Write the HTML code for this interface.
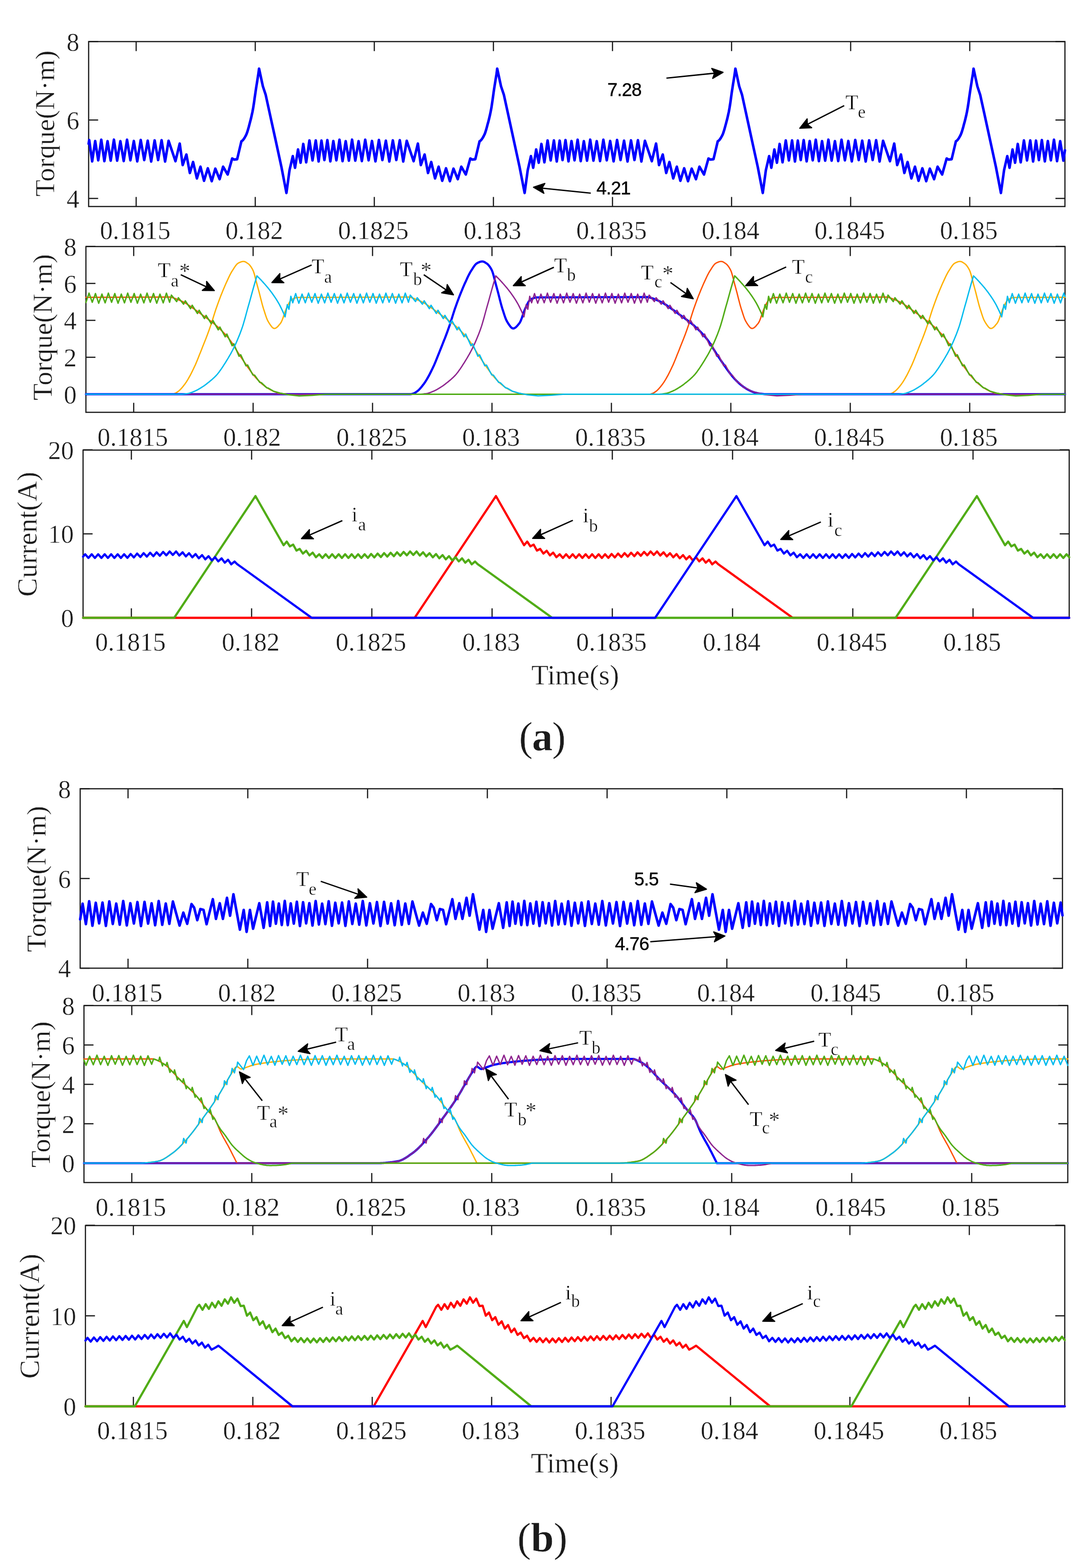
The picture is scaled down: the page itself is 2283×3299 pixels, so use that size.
<!DOCTYPE html>
<html><head><meta charset="utf-8"><title>Figure</title><style>html,body{margin:0;padding:0;background:#fff;}svg{display:block;}</style></head><body>
<svg width="2283" height="3299" viewBox="0 0 2283 3299" font-family="'Liberation Serif','Times New Roman',serif" fill="#1a1a1a">
<style>text{stroke:#fff;stroke-width:0.55px;}</style>
<rect width="2283" height="3299" fill="#fff"/>
<path d="M186.5,434.4 L186.5,87.5 L2240.8,87.5 L2240.8,434.4 Z" fill="none" stroke="#1a1a1a" stroke-width="2.5" stroke-linejoin="miter"/>
<line x1="286.5" y1="87.5" x2="286.5" y2="107.5" stroke="#1a1a1a" stroke-width="2.5"/>
<line x1="286.5" y1="434.4" x2="286.5" y2="414.4" stroke="#1a1a1a" stroke-width="2.5"/>
<text x="284.5" y="502.5" font-size="54" text-anchor="middle">0.1815</text>
<line x1="537.1" y1="87.5" x2="537.1" y2="107.5" stroke="#1a1a1a" stroke-width="2.5"/>
<line x1="537.1" y1="434.4" x2="537.1" y2="414.4" stroke="#1a1a1a" stroke-width="2.5"/>
<text x="535.1" y="502.5" font-size="54" text-anchor="middle">0.182</text>
<line x1="787.6" y1="87.5" x2="787.6" y2="107.5" stroke="#1a1a1a" stroke-width="2.5"/>
<line x1="787.6" y1="434.4" x2="787.6" y2="414.4" stroke="#1a1a1a" stroke-width="2.5"/>
<text x="785.6" y="502.5" font-size="54" text-anchor="middle">0.1825</text>
<line x1="1038.2" y1="87.5" x2="1038.2" y2="107.5" stroke="#1a1a1a" stroke-width="2.5"/>
<line x1="1038.2" y1="434.4" x2="1038.2" y2="414.4" stroke="#1a1a1a" stroke-width="2.5"/>
<text x="1036.2" y="502.5" font-size="54" text-anchor="middle">0.183</text>
<line x1="1288.8" y1="87.5" x2="1288.8" y2="107.5" stroke="#1a1a1a" stroke-width="2.5"/>
<line x1="1288.8" y1="434.4" x2="1288.8" y2="414.4" stroke="#1a1a1a" stroke-width="2.5"/>
<text x="1286.8" y="502.5" font-size="54" text-anchor="middle">0.1835</text>
<line x1="1539.3" y1="87.5" x2="1539.3" y2="107.5" stroke="#1a1a1a" stroke-width="2.5"/>
<line x1="1539.3" y1="434.4" x2="1539.3" y2="414.4" stroke="#1a1a1a" stroke-width="2.5"/>
<text x="1537.3" y="502.5" font-size="54" text-anchor="middle">0.184</text>
<line x1="1789.9" y1="87.5" x2="1789.9" y2="107.5" stroke="#1a1a1a" stroke-width="2.5"/>
<line x1="1789.9" y1="434.4" x2="1789.9" y2="414.4" stroke="#1a1a1a" stroke-width="2.5"/>
<text x="1787.9" y="502.5" font-size="54" text-anchor="middle">0.1845</text>
<line x1="2040.5" y1="87.5" x2="2040.5" y2="107.5" stroke="#1a1a1a" stroke-width="2.5"/>
<line x1="2040.5" y1="434.4" x2="2040.5" y2="414.4" stroke="#1a1a1a" stroke-width="2.5"/>
<text x="2038.5" y="502.5" font-size="54" text-anchor="middle">0.185</text>
<line x1="186.5" y1="417.5" x2="206.5" y2="417.5" stroke="#1a1a1a" stroke-width="2.5"/>
<line x1="2240.8" y1="417.5" x2="2220.8" y2="417.5" stroke="#1a1a1a" stroke-width="2.5"/>
<text x="167.0" y="436.7" font-size="54" text-anchor="end">4</text>
<line x1="186.5" y1="252.5" x2="206.5" y2="252.5" stroke="#1a1a1a" stroke-width="2.5"/>
<line x1="2240.8" y1="252.5" x2="2220.8" y2="252.5" stroke="#1a1a1a" stroke-width="2.5"/>
<text x="167.0" y="271.7" font-size="54" text-anchor="end">6</text>
<line x1="186.5" y1="87.5" x2="206.5" y2="87.5" stroke="#1a1a1a" stroke-width="2.5"/>
<line x1="2240.8" y1="87.5" x2="2220.8" y2="87.5" stroke="#1a1a1a" stroke-width="2.5"/>
<text x="167.0" y="106.7" font-size="54" text-anchor="end">8</text>
<text transform="translate(114.0,259.8) rotate(-90)" font-size="57.8" text-anchor="middle">Torque(N·m)</text>
<path d="M180.8,867.5 L180.8,518.7 L2241.0,518.7 L2241.0,867.5 Z" fill="none" stroke="#1a1a1a" stroke-width="2.5" stroke-linejoin="miter"/>
<line x1="281.3" y1="518.7" x2="281.3" y2="538.7" stroke="#1a1a1a" stroke-width="2.5"/>
<line x1="281.3" y1="867.5" x2="281.3" y2="847.5" stroke="#1a1a1a" stroke-width="2.5"/>
<text x="279.3" y="938.0" font-size="54" text-anchor="middle">0.1815</text>
<line x1="532.6" y1="518.7" x2="532.6" y2="538.7" stroke="#1a1a1a" stroke-width="2.5"/>
<line x1="532.6" y1="867.5" x2="532.6" y2="847.5" stroke="#1a1a1a" stroke-width="2.5"/>
<text x="530.6" y="938.0" font-size="54" text-anchor="middle">0.182</text>
<line x1="783.9" y1="518.7" x2="783.9" y2="538.7" stroke="#1a1a1a" stroke-width="2.5"/>
<line x1="783.9" y1="867.5" x2="783.9" y2="847.5" stroke="#1a1a1a" stroke-width="2.5"/>
<text x="781.9" y="938.0" font-size="54" text-anchor="middle">0.1825</text>
<line x1="1035.2" y1="518.7" x2="1035.2" y2="538.7" stroke="#1a1a1a" stroke-width="2.5"/>
<line x1="1035.2" y1="867.5" x2="1035.2" y2="847.5" stroke="#1a1a1a" stroke-width="2.5"/>
<text x="1033.2" y="938.0" font-size="54" text-anchor="middle">0.183</text>
<line x1="1286.5" y1="518.7" x2="1286.5" y2="538.7" stroke="#1a1a1a" stroke-width="2.5"/>
<line x1="1286.5" y1="867.5" x2="1286.5" y2="847.5" stroke="#1a1a1a" stroke-width="2.5"/>
<text x="1284.5" y="938.0" font-size="54" text-anchor="middle">0.1835</text>
<line x1="1537.8" y1="518.7" x2="1537.8" y2="538.7" stroke="#1a1a1a" stroke-width="2.5"/>
<line x1="1537.8" y1="867.5" x2="1537.8" y2="847.5" stroke="#1a1a1a" stroke-width="2.5"/>
<text x="1535.8" y="938.0" font-size="54" text-anchor="middle">0.184</text>
<line x1="1789.1" y1="518.7" x2="1789.1" y2="538.7" stroke="#1a1a1a" stroke-width="2.5"/>
<line x1="1789.1" y1="867.5" x2="1789.1" y2="847.5" stroke="#1a1a1a" stroke-width="2.5"/>
<text x="1787.1" y="938.0" font-size="54" text-anchor="middle">0.1845</text>
<line x1="2040.4" y1="518.7" x2="2040.4" y2="538.7" stroke="#1a1a1a" stroke-width="2.5"/>
<line x1="2040.4" y1="867.5" x2="2040.4" y2="847.5" stroke="#1a1a1a" stroke-width="2.5"/>
<text x="2038.4" y="938.0" font-size="54" text-anchor="middle">0.185</text>
<line x1="180.8" y1="829.4" x2="200.8" y2="829.4" stroke="#1a1a1a" stroke-width="2.5"/>
<line x1="2241.0" y1="829.4" x2="2221.0" y2="829.4" stroke="#1a1a1a" stroke-width="2.5"/>
<text x="161.3" y="848.6" font-size="54" text-anchor="end">0</text>
<line x1="180.8" y1="751.7" x2="200.8" y2="751.7" stroke="#1a1a1a" stroke-width="2.5"/>
<line x1="2241.0" y1="751.7" x2="2221.0" y2="751.7" stroke="#1a1a1a" stroke-width="2.5"/>
<text x="161.3" y="770.9" font-size="54" text-anchor="end">2</text>
<line x1="180.8" y1="674.0" x2="200.8" y2="674.0" stroke="#1a1a1a" stroke-width="2.5"/>
<line x1="2241.0" y1="674.0" x2="2221.0" y2="674.0" stroke="#1a1a1a" stroke-width="2.5"/>
<text x="161.3" y="693.2" font-size="54" text-anchor="end">4</text>
<line x1="180.8" y1="596.3" x2="200.8" y2="596.3" stroke="#1a1a1a" stroke-width="2.5"/>
<line x1="2241.0" y1="596.3" x2="2221.0" y2="596.3" stroke="#1a1a1a" stroke-width="2.5"/>
<text x="161.3" y="615.5" font-size="54" text-anchor="end">6</text>
<line x1="180.8" y1="518.6" x2="200.8" y2="518.6" stroke="#1a1a1a" stroke-width="2.5"/>
<line x1="2241.0" y1="518.6" x2="2221.0" y2="518.6" stroke="#1a1a1a" stroke-width="2.5"/>
<text x="161.3" y="537.8" font-size="54" text-anchor="end">8</text>
<text transform="translate(108.5,688.5) rotate(-90)" font-size="57.8" text-anchor="middle">Torque(N·m)</text>
<path d="M174.8,1299.9 L174.8,947.0 L2249.8,947.0 L2249.8,1299.9 Z" fill="none" stroke="#1a1a1a" stroke-width="2.5" stroke-linejoin="miter"/>
<line x1="276.4" y1="947.0" x2="276.4" y2="967.0" stroke="#1a1a1a" stroke-width="2.5"/>
<line x1="276.4" y1="1299.9" x2="276.4" y2="1279.9" stroke="#1a1a1a" stroke-width="2.5"/>
<text x="274.4" y="1369.0" font-size="54" text-anchor="middle">0.1815</text>
<line x1="529.4" y1="947.0" x2="529.4" y2="967.0" stroke="#1a1a1a" stroke-width="2.5"/>
<line x1="529.4" y1="1299.9" x2="529.4" y2="1279.9" stroke="#1a1a1a" stroke-width="2.5"/>
<text x="527.4" y="1369.0" font-size="54" text-anchor="middle">0.182</text>
<line x1="782.4" y1="947.0" x2="782.4" y2="967.0" stroke="#1a1a1a" stroke-width="2.5"/>
<line x1="782.4" y1="1299.9" x2="782.4" y2="1279.9" stroke="#1a1a1a" stroke-width="2.5"/>
<text x="780.4" y="1369.0" font-size="54" text-anchor="middle">0.1825</text>
<line x1="1035.4" y1="947.0" x2="1035.4" y2="967.0" stroke="#1a1a1a" stroke-width="2.5"/>
<line x1="1035.4" y1="1299.9" x2="1035.4" y2="1279.9" stroke="#1a1a1a" stroke-width="2.5"/>
<text x="1033.4" y="1369.0" font-size="54" text-anchor="middle">0.183</text>
<line x1="1288.4" y1="947.0" x2="1288.4" y2="967.0" stroke="#1a1a1a" stroke-width="2.5"/>
<line x1="1288.4" y1="1299.9" x2="1288.4" y2="1279.9" stroke="#1a1a1a" stroke-width="2.5"/>
<text x="1286.4" y="1369.0" font-size="54" text-anchor="middle">0.1835</text>
<line x1="1541.4" y1="947.0" x2="1541.4" y2="967.0" stroke="#1a1a1a" stroke-width="2.5"/>
<line x1="1541.4" y1="1299.9" x2="1541.4" y2="1279.9" stroke="#1a1a1a" stroke-width="2.5"/>
<text x="1539.4" y="1369.0" font-size="54" text-anchor="middle">0.184</text>
<line x1="1794.4" y1="947.0" x2="1794.4" y2="967.0" stroke="#1a1a1a" stroke-width="2.5"/>
<line x1="1794.4" y1="1299.9" x2="1794.4" y2="1279.9" stroke="#1a1a1a" stroke-width="2.5"/>
<text x="1792.4" y="1369.0" font-size="54" text-anchor="middle">0.1845</text>
<line x1="2047.4" y1="947.0" x2="2047.4" y2="967.0" stroke="#1a1a1a" stroke-width="2.5"/>
<line x1="2047.4" y1="1299.9" x2="2047.4" y2="1279.9" stroke="#1a1a1a" stroke-width="2.5"/>
<text x="2045.4" y="1369.0" font-size="54" text-anchor="middle">0.185</text>
<line x1="174.8" y1="1299.9" x2="194.8" y2="1299.9" stroke="#1a1a1a" stroke-width="2.5"/>
<line x1="2249.8" y1="1299.9" x2="2229.8" y2="1299.9" stroke="#1a1a1a" stroke-width="2.5"/>
<text x="155.3" y="1319.1" font-size="54" text-anchor="end">0</text>
<line x1="174.8" y1="1123.2" x2="194.8" y2="1123.2" stroke="#1a1a1a" stroke-width="2.5"/>
<line x1="2249.8" y1="1123.2" x2="2229.8" y2="1123.2" stroke="#1a1a1a" stroke-width="2.5"/>
<text x="155.3" y="1142.4" font-size="54" text-anchor="end">10</text>
<line x1="174.8" y1="946.5" x2="194.8" y2="946.5" stroke="#1a1a1a" stroke-width="2.5"/>
<line x1="2249.8" y1="946.5" x2="2229.8" y2="946.5" stroke="#1a1a1a" stroke-width="2.5"/>
<text x="155.3" y="965.7" font-size="54" text-anchor="end">20</text>
<text transform="translate(77.0,1124.0) rotate(-90)" font-size="59.2" text-anchor="middle">Current(A)</text>
<path d="M168.7,2037.1 L168.7,1659.6 L2235.6,1659.6 L2235.6,2037.1 Z" fill="none" stroke="#1a1a1a" stroke-width="2.5" stroke-linejoin="miter"/>
<line x1="269.4" y1="1659.6" x2="269.4" y2="1679.6" stroke="#1a1a1a" stroke-width="2.5"/>
<line x1="269.4" y1="2037.1" x2="269.4" y2="2017.1" stroke="#1a1a1a" stroke-width="2.5"/>
<text x="267.4" y="2106.5" font-size="54" text-anchor="middle">0.1815</text>
<line x1="521.4" y1="1659.6" x2="521.4" y2="1679.6" stroke="#1a1a1a" stroke-width="2.5"/>
<line x1="521.4" y1="2037.1" x2="521.4" y2="2017.1" stroke="#1a1a1a" stroke-width="2.5"/>
<text x="519.4" y="2106.5" font-size="54" text-anchor="middle">0.182</text>
<line x1="773.4" y1="1659.6" x2="773.4" y2="1679.6" stroke="#1a1a1a" stroke-width="2.5"/>
<line x1="773.4" y1="2037.1" x2="773.4" y2="2017.1" stroke="#1a1a1a" stroke-width="2.5"/>
<text x="771.4" y="2106.5" font-size="54" text-anchor="middle">0.1825</text>
<line x1="1025.4" y1="1659.6" x2="1025.4" y2="1679.6" stroke="#1a1a1a" stroke-width="2.5"/>
<line x1="1025.4" y1="2037.1" x2="1025.4" y2="2017.1" stroke="#1a1a1a" stroke-width="2.5"/>
<text x="1023.4" y="2106.5" font-size="54" text-anchor="middle">0.183</text>
<line x1="1277.4" y1="1659.6" x2="1277.4" y2="1679.6" stroke="#1a1a1a" stroke-width="2.5"/>
<line x1="1277.4" y1="2037.1" x2="1277.4" y2="2017.1" stroke="#1a1a1a" stroke-width="2.5"/>
<text x="1275.4" y="2106.5" font-size="54" text-anchor="middle">0.1835</text>
<line x1="1529.4" y1="1659.6" x2="1529.4" y2="1679.6" stroke="#1a1a1a" stroke-width="2.5"/>
<line x1="1529.4" y1="2037.1" x2="1529.4" y2="2017.1" stroke="#1a1a1a" stroke-width="2.5"/>
<text x="1527.4" y="2106.5" font-size="54" text-anchor="middle">0.184</text>
<line x1="1781.4" y1="1659.6" x2="1781.4" y2="1679.6" stroke="#1a1a1a" stroke-width="2.5"/>
<line x1="1781.4" y1="2037.1" x2="1781.4" y2="2017.1" stroke="#1a1a1a" stroke-width="2.5"/>
<text x="1779.4" y="2106.5" font-size="54" text-anchor="middle">0.1845</text>
<line x1="2033.4" y1="1659.6" x2="2033.4" y2="1679.6" stroke="#1a1a1a" stroke-width="2.5"/>
<line x1="2033.4" y1="2037.1" x2="2033.4" y2="2017.1" stroke="#1a1a1a" stroke-width="2.5"/>
<text x="2031.4" y="2106.5" font-size="54" text-anchor="middle">0.185</text>
<line x1="168.7" y1="2037.1" x2="188.7" y2="2037.1" stroke="#1a1a1a" stroke-width="2.5"/>
<line x1="2235.6" y1="2037.1" x2="2215.6" y2="2037.1" stroke="#1a1a1a" stroke-width="2.5"/>
<text x="149.2" y="2056.3" font-size="54" text-anchor="end">4</text>
<line x1="168.7" y1="1848.3" x2="188.7" y2="1848.3" stroke="#1a1a1a" stroke-width="2.5"/>
<line x1="2235.6" y1="1848.3" x2="2215.6" y2="1848.3" stroke="#1a1a1a" stroke-width="2.5"/>
<text x="149.2" y="1867.5" font-size="54" text-anchor="end">6</text>
<line x1="168.7" y1="1659.6" x2="188.7" y2="1659.6" stroke="#1a1a1a" stroke-width="2.5"/>
<line x1="2235.6" y1="1659.6" x2="2215.6" y2="1659.6" stroke="#1a1a1a" stroke-width="2.5"/>
<text x="149.2" y="1678.8" font-size="54" text-anchor="end">8</text>
<text transform="translate(96.2,1849.3) rotate(-90)" font-size="57.8" text-anchor="middle">Torque(N·m)</text>
<path d="M176.7,2488.0 L176.7,2115.7 L2246.8,2115.7 L2246.8,2488.0 Z" fill="none" stroke="#1a1a1a" stroke-width="2.5" stroke-linejoin="miter"/>
<line x1="277.3" y1="2115.7" x2="277.3" y2="2135.7" stroke="#1a1a1a" stroke-width="2.5"/>
<line x1="277.3" y1="2488.0" x2="277.3" y2="2468.0" stroke="#1a1a1a" stroke-width="2.5"/>
<text x="275.3" y="2558.0" font-size="54" text-anchor="middle">0.1815</text>
<line x1="529.8" y1="2115.7" x2="529.8" y2="2135.7" stroke="#1a1a1a" stroke-width="2.5"/>
<line x1="529.8" y1="2488.0" x2="529.8" y2="2468.0" stroke="#1a1a1a" stroke-width="2.5"/>
<text x="527.8" y="2558.0" font-size="54" text-anchor="middle">0.182</text>
<line x1="782.2" y1="2115.7" x2="782.2" y2="2135.7" stroke="#1a1a1a" stroke-width="2.5"/>
<line x1="782.2" y1="2488.0" x2="782.2" y2="2468.0" stroke="#1a1a1a" stroke-width="2.5"/>
<text x="780.2" y="2558.0" font-size="54" text-anchor="middle">0.1825</text>
<line x1="1034.7" y1="2115.7" x2="1034.7" y2="2135.7" stroke="#1a1a1a" stroke-width="2.5"/>
<line x1="1034.7" y1="2488.0" x2="1034.7" y2="2468.0" stroke="#1a1a1a" stroke-width="2.5"/>
<text x="1032.7" y="2558.0" font-size="54" text-anchor="middle">0.183</text>
<line x1="1287.2" y1="2115.7" x2="1287.2" y2="2135.7" stroke="#1a1a1a" stroke-width="2.5"/>
<line x1="1287.2" y1="2488.0" x2="1287.2" y2="2468.0" stroke="#1a1a1a" stroke-width="2.5"/>
<text x="1285.2" y="2558.0" font-size="54" text-anchor="middle">0.1835</text>
<line x1="1539.6" y1="2115.7" x2="1539.6" y2="2135.7" stroke="#1a1a1a" stroke-width="2.5"/>
<line x1="1539.6" y1="2488.0" x2="1539.6" y2="2468.0" stroke="#1a1a1a" stroke-width="2.5"/>
<text x="1537.6" y="2558.0" font-size="54" text-anchor="middle">0.184</text>
<line x1="1792.1" y1="2115.7" x2="1792.1" y2="2135.7" stroke="#1a1a1a" stroke-width="2.5"/>
<line x1="1792.1" y1="2488.0" x2="1792.1" y2="2468.0" stroke="#1a1a1a" stroke-width="2.5"/>
<text x="1790.1" y="2558.0" font-size="54" text-anchor="middle">0.1845</text>
<line x1="2044.6" y1="2115.7" x2="2044.6" y2="2135.7" stroke="#1a1a1a" stroke-width="2.5"/>
<line x1="2044.6" y1="2488.0" x2="2044.6" y2="2468.0" stroke="#1a1a1a" stroke-width="2.5"/>
<text x="2042.6" y="2558.0" font-size="54" text-anchor="middle">0.185</text>
<line x1="176.7" y1="2447.2" x2="196.7" y2="2447.2" stroke="#1a1a1a" stroke-width="2.5"/>
<line x1="2246.8" y1="2447.2" x2="2226.8" y2="2447.2" stroke="#1a1a1a" stroke-width="2.5"/>
<text x="157.2" y="2466.4" font-size="54" text-anchor="end">0</text>
<line x1="176.7" y1="2364.3" x2="196.7" y2="2364.3" stroke="#1a1a1a" stroke-width="2.5"/>
<line x1="2246.8" y1="2364.3" x2="2226.8" y2="2364.3" stroke="#1a1a1a" stroke-width="2.5"/>
<text x="157.2" y="2383.5" font-size="54" text-anchor="end">2</text>
<line x1="176.7" y1="2281.4" x2="196.7" y2="2281.4" stroke="#1a1a1a" stroke-width="2.5"/>
<line x1="2246.8" y1="2281.4" x2="2226.8" y2="2281.4" stroke="#1a1a1a" stroke-width="2.5"/>
<text x="157.2" y="2300.6" font-size="54" text-anchor="end">4</text>
<line x1="176.7" y1="2198.6" x2="196.7" y2="2198.6" stroke="#1a1a1a" stroke-width="2.5"/>
<line x1="2246.8" y1="2198.6" x2="2226.8" y2="2198.6" stroke="#1a1a1a" stroke-width="2.5"/>
<text x="157.2" y="2217.8" font-size="54" text-anchor="end">6</text>
<line x1="176.7" y1="2115.7" x2="196.7" y2="2115.7" stroke="#1a1a1a" stroke-width="2.5"/>
<line x1="2246.8" y1="2115.7" x2="2226.8" y2="2115.7" stroke="#1a1a1a" stroke-width="2.5"/>
<text x="157.2" y="2134.9" font-size="54" text-anchor="end">8</text>
<text transform="translate(104.7,2302.6) rotate(-90)" font-size="57.8" text-anchor="middle">Torque(N·m)</text>
<path d="M179.8,2958.9 L179.8,2578.5 L2240.4,2578.5 L2240.4,2958.9 Z" fill="none" stroke="#1a1a1a" stroke-width="2.5" stroke-linejoin="miter"/>
<line x1="280.7" y1="2578.5" x2="280.7" y2="2598.5" stroke="#1a1a1a" stroke-width="2.5"/>
<line x1="280.7" y1="2958.9" x2="280.7" y2="2938.9" stroke="#1a1a1a" stroke-width="2.5"/>
<text x="278.7" y="3027.5" font-size="54" text-anchor="middle">0.1815</text>
<line x1="532.0" y1="2578.5" x2="532.0" y2="2598.5" stroke="#1a1a1a" stroke-width="2.5"/>
<line x1="532.0" y1="2958.9" x2="532.0" y2="2938.9" stroke="#1a1a1a" stroke-width="2.5"/>
<text x="530.0" y="3027.5" font-size="54" text-anchor="middle">0.182</text>
<line x1="783.2" y1="2578.5" x2="783.2" y2="2598.5" stroke="#1a1a1a" stroke-width="2.5"/>
<line x1="783.2" y1="2958.9" x2="783.2" y2="2938.9" stroke="#1a1a1a" stroke-width="2.5"/>
<text x="781.2" y="3027.5" font-size="54" text-anchor="middle">0.1825</text>
<line x1="1034.5" y1="2578.5" x2="1034.5" y2="2598.5" stroke="#1a1a1a" stroke-width="2.5"/>
<line x1="1034.5" y1="2958.9" x2="1034.5" y2="2938.9" stroke="#1a1a1a" stroke-width="2.5"/>
<text x="1032.5" y="3027.5" font-size="54" text-anchor="middle">0.183</text>
<line x1="1285.8" y1="2578.5" x2="1285.8" y2="2598.5" stroke="#1a1a1a" stroke-width="2.5"/>
<line x1="1285.8" y1="2958.9" x2="1285.8" y2="2938.9" stroke="#1a1a1a" stroke-width="2.5"/>
<text x="1283.8" y="3027.5" font-size="54" text-anchor="middle">0.1835</text>
<line x1="1537.1" y1="2578.5" x2="1537.1" y2="2598.5" stroke="#1a1a1a" stroke-width="2.5"/>
<line x1="1537.1" y1="2958.9" x2="1537.1" y2="2938.9" stroke="#1a1a1a" stroke-width="2.5"/>
<text x="1535.1" y="3027.5" font-size="54" text-anchor="middle">0.184</text>
<line x1="1788.3" y1="2578.5" x2="1788.3" y2="2598.5" stroke="#1a1a1a" stroke-width="2.5"/>
<line x1="1788.3" y1="2958.9" x2="1788.3" y2="2938.9" stroke="#1a1a1a" stroke-width="2.5"/>
<text x="1786.3" y="3027.5" font-size="54" text-anchor="middle">0.1845</text>
<line x1="2039.6" y1="2578.5" x2="2039.6" y2="2598.5" stroke="#1a1a1a" stroke-width="2.5"/>
<line x1="2039.6" y1="2958.9" x2="2039.6" y2="2938.9" stroke="#1a1a1a" stroke-width="2.5"/>
<text x="2037.6" y="3027.5" font-size="54" text-anchor="middle">0.185</text>
<line x1="179.8" y1="2958.9" x2="199.8" y2="2958.9" stroke="#1a1a1a" stroke-width="2.5"/>
<line x1="2240.4" y1="2958.9" x2="2220.4" y2="2958.9" stroke="#1a1a1a" stroke-width="2.5"/>
<text x="160.3" y="2978.1" font-size="54" text-anchor="end">0</text>
<line x1="179.8" y1="2768.4" x2="199.8" y2="2768.4" stroke="#1a1a1a" stroke-width="2.5"/>
<line x1="2240.4" y1="2768.4" x2="2220.4" y2="2768.4" stroke="#1a1a1a" stroke-width="2.5"/>
<text x="160.3" y="2787.6" font-size="54" text-anchor="end">10</text>
<line x1="179.8" y1="2577.9" x2="199.8" y2="2577.9" stroke="#1a1a1a" stroke-width="2.5"/>
<line x1="2240.4" y1="2577.9" x2="2220.4" y2="2577.9" stroke="#1a1a1a" stroke-width="2.5"/>
<text x="160.3" y="2597.1" font-size="54" text-anchor="end">20</text>
<text transform="translate(82.3,2769.3) rotate(-90)" font-size="59.2" text-anchor="middle">Current(A)</text>
<polyline points="186.5,302.4 187.7,294.6 193.9,339.6 200.3,296.6 206.7,337.3 213.1,294.0 219.6,339.0 226.3,297.0 232.9,338.1 239.7,293.8 246.5,338.1 253.3,297.0 260.3,338.9 267.3,293.9 274.4,337.3 281.6,296.6 288.8,339.6 296.1,294.5 303.5,336.8 310.8,295.9 318.1,339.9 325.4,295.3 332.7,336.7 340.0,295.0 347.4,339.9 354.7,296.2 369.2,339.1 378.2,302.0 384.4,347.4 392.2,325.1 399.5,363.9 406.3,340.8 414.3,375.4 421.8,350.7 429.3,380.4 437.3,354.0 445.5,381.2 453.1,354.8 462.1,377.1 469.4,350.7 479.0,367.2 488.5,333.4 492.5,335.8 499.0,335.0 508.0,297.1 509.5,296.3 511.1,294.9 512.6,292.9 514.2,290.6 515.7,288.0 517.3,285.1 518.8,281.8 520.4,277.5 521.9,272.4 523.5,266.9 525.0,261.1 526.5,255.4 528.1,249.3 529.6,242.7 531.2,235.5 532.7,227.3 534.3,217.3 535.8,206.3 537.4,195.4 538.9,185.2 540.5,175.4 542.0,165.7 543.5,156.2 545.1,144.4 553.1,181.5 559.1,199.7 568.1,241.0 580.2,296.2 592.2,351.5 602.7,406.0 609.2,358.1 616.1,328.4 620.8,353.1 627.1,314.4 632.5,342.4 638.1,302.8 644.3,341.6 651.1,295.4 657.6,337.5 664.4,295.4 670.4,339.9 676.4,295.8 682.6,336.8 688.8,294.6 695.1,339.6 701.4,296.6 707.8,337.3 714.3,294.0 720.8,339.0 727.4,297.0 734.1,338.1 740.8,293.8 747.6,338.1 754.5,297.0 761.4,338.9 768.5,293.9 775.6,337.3 782.7,296.6 790.0,339.6 797.3,294.5 804.6,336.8 811.9,295.9 819.2,339.9 826.6,295.3 833.9,336.7 841.2,295.0 848.5,339.9 855.8,296.2 870.3,339.1 879.3,302.0 885.5,347.4 893.4,325.1 900.6,363.9 907.4,340.8 915.4,375.4 922.9,350.7 930.5,380.4 938.5,354.0 946.6,381.2 954.2,354.8 963.2,377.1 970.6,350.7 980.1,367.2 989.6,333.4 993.6,335.8 1000.1,335.0 1009.1,297.1 1010.7,296.3 1012.2,294.9 1013.8,292.9 1015.3,290.6 1016.9,288.0 1018.4,285.1 1020.0,281.8 1021.5,277.5 1023.1,272.4 1024.6,266.9 1026.1,261.1 1027.7,255.4 1029.2,249.3 1030.8,242.7 1032.3,235.5 1033.9,227.3 1035.4,217.3 1037.0,206.3 1038.5,195.4 1040.0,185.2 1041.6,175.4 1043.1,165.7 1044.7,156.2 1046.2,144.4 1054.2,181.5 1060.3,199.7 1069.3,241.0 1081.3,296.2 1093.3,351.5 1103.9,406.0 1110.4,358.1 1117.2,328.4 1121.9,353.1 1128.2,314.4 1133.6,342.4 1139.2,302.8 1145.5,341.6 1152.2,295.4 1158.7,337.5 1165.5,295.4 1171.5,339.9 1177.6,295.8 1183.7,336.8 1189.9,294.6 1196.2,339.6 1202.5,296.6 1208.9,337.3 1215.4,294.0 1221.9,339.0 1228.5,297.0 1235.2,338.1 1241.9,293.8 1248.7,338.1 1255.6,297.0 1262.6,338.9 1269.6,293.9 1276.7,337.3 1283.9,296.6 1291.1,339.6 1298.4,294.5 1305.7,336.8 1313.1,295.9 1320.4,339.9 1327.7,295.3 1335.0,336.7 1342.3,295.0 1349.6,339.9 1357.0,296.2 1371.5,339.1 1380.5,302.0 1386.7,347.4 1394.5,325.1 1401.8,363.9 1408.6,340.8 1416.6,375.4 1424.1,350.7 1431.6,380.4 1439.6,354.0 1447.7,381.2 1455.4,354.8 1464.4,377.1 1471.7,350.7 1481.3,367.2 1490.7,333.4 1494.7,335.8 1501.3,335.0 1510.3,297.1 1511.8,296.3 1513.4,294.9 1514.9,292.9 1516.5,290.6 1518.0,288.0 1519.6,285.1 1521.1,281.8 1522.6,277.5 1524.2,272.4 1525.7,266.9 1527.3,261.1 1528.8,255.4 1530.4,249.3 1531.9,242.7 1533.5,235.5 1535.0,227.3 1536.6,217.3 1538.1,206.3 1539.6,195.4 1541.2,185.2 1542.7,175.4 1544.3,165.7 1545.8,156.2 1547.4,144.4 1555.4,181.5 1561.4,199.7 1570.4,241.0 1582.4,296.2 1594.5,351.5 1605.0,406.0 1611.5,358.1 1618.4,328.4 1623.0,353.1 1629.4,314.4 1634.8,342.4 1640.4,302.8 1646.6,341.6 1653.4,295.4 1659.9,337.5 1666.6,295.4 1672.7,339.9 1678.7,295.8 1684.9,336.8 1691.1,294.6 1697.3,339.6 1703.7,296.6 1710.1,337.3 1716.5,294.0 1723.1,339.0 1729.7,297.0 1736.3,338.1 1743.1,293.8 1749.9,338.1 1756.8,297.0 1763.7,338.9 1770.7,293.9 1777.8,337.3 1785.0,296.6 1792.3,339.6 1799.6,294.5 1806.9,336.8 1814.2,295.9 1821.5,339.9 1828.8,295.3 1836.2,336.7 1843.5,295.0 1850.8,339.9 1858.1,296.2 1872.6,339.1 1881.6,302.0 1887.8,347.4 1895.7,325.1 1902.9,363.9 1909.7,340.8 1917.7,375.4 1925.2,350.7 1932.7,380.4 1940.8,354.0 1948.9,381.2 1956.5,354.8 1965.5,377.1 1972.8,350.7 1982.4,367.2 1991.9,333.4 1995.9,335.8 2002.4,335.0 2011.4,297.1 2013.0,296.3 2014.5,294.9 2016.1,292.9 2017.6,290.6 2019.1,288.0 2020.7,285.1 2022.2,281.8 2023.8,277.5 2025.3,272.4 2026.9,266.9 2028.4,261.1 2030.0,255.4 2031.5,249.3 2033.1,242.7 2034.6,235.5 2036.1,227.3 2037.7,217.3 2039.2,206.3 2040.8,195.4 2042.3,185.2 2043.9,175.4 2045.4,165.7 2047.0,156.2 2048.5,144.4 2056.5,181.5 2062.5,199.7 2071.6,241.0 2083.6,296.2 2095.6,351.5 2106.1,406.0 2112.7,358.1 2119.5,328.4 2124.2,353.1 2130.5,314.4 2135.9,342.4 2141.5,302.8 2147.7,341.6 2154.5,295.4 2161.0,337.5 2167.8,295.4 2173.8,339.9 2179.9,295.8 2186.0,336.8 2192.2,294.6 2198.5,339.6 2204.8,296.6 2211.2,337.3 2217.7,294.0 2224.2,339.0 2230.8,297.0 2237.5,338.1 2240.8,316.2" fill="none" stroke="#0000ff" stroke-width="5.4" stroke-linejoin="round" stroke-linecap="round" />
<polyline points="180.8,829.4 360.7,829.4 360.7,829.4 362.2,829.3 363.7,829.0 365.3,828.6 366.8,828.2 368.3,827.7 369.8,826.9 371.3,826.0 372.8,825.0 374.3,823.9 375.8,822.8 377.4,821.5 378.9,820.1 380.4,818.5 381.9,816.9 383.4,815.1 384.9,813.3 386.4,811.3 388.0,809.3 389.5,807.3 391.0,805.2 392.5,802.9 394.0,800.6 395.5,798.1 397.0,795.5 398.5,792.8 400.1,790.0 401.6,787.1 403.1,784.1 404.6,781.1 406.1,778.0 407.6,774.9 409.1,771.7 410.7,768.4 412.2,764.9 413.7,761.3 415.2,757.7 416.7,753.9 418.2,750.2 419.7,746.3 421.3,742.5 422.8,738.7 424.3,734.9 425.8,731.1 427.3,727.3 428.8,723.5 430.3,719.7 431.8,715.9 433.4,712.0 434.9,708.1 436.4,704.2 437.9,700.1 439.4,696.0 440.9,691.8 442.4,687.4 444.0,682.9 445.5,678.2 447.0,673.5 448.5,668.7 450.0,663.9 451.5,659.1 453.0,654.5 454.5,649.9 456.1,645.5 457.6,641.3 459.1,637.1 460.6,633.0 462.1,629.0 463.6,625.0 465.1,621.1 466.7,617.2 468.2,613.5 469.7,609.8 471.2,606.2 472.7,602.7 474.2,599.2 475.7,595.8 477.3,592.4 478.8,589.1 480.3,585.8 481.8,582.6 483.3,579.5 484.8,576.6 486.3,573.8 487.8,571.2 489.4,568.7 490.9,566.4 492.4,564.0 493.9,561.7 495.4,559.6 496.9,557.6 498.4,555.9 500.0,554.5 501.5,553.6 503.0,552.8 504.5,552.1 506.0,551.5 507.5,550.9 509.0,550.5 510.5,550.2 512.1,550.1 513.6,550.2 515.1,550.6 516.6,551.3 518.1,552.1 519.6,553.1 521.1,554.1 522.7,555.2 524.2,556.5 525.7,558.2 527.2,560.1 528.7,562.3 530.2,564.7 531.7,567.4 533.3,571.0 534.8,575.5 536.3,580.8 537.8,586.6 539.3,592.5 540.8,598.3 542.3,603.8 543.8,609.5 545.4,615.4 546.9,621.3 548.4,627.3 549.9,633.2 551.4,639.0 552.9,644.4 554.4,649.4 556.0,654.2 557.5,659.0 559.0,663.6 560.5,667.9 562.0,671.8 563.5,675.0 565.0,677.6 566.5,680.1 568.1,682.5 569.6,684.7 571.1,686.7 572.6,688.5 574.1,689.8 575.6,690.7 577.1,691.1 578.7,690.9 580.2,690.3 581.7,689.4 583.2,688.2 584.7,686.7 586.2,685.0 587.7,683.2 589.3,681.3 590.8,679.3 592.3,676.7 593.8,673.3 595.3,669.3 596.8,665.0 598.3,660.6 599.8,656.2 601.4,652.1 602.9,648.4 604.4,645.3 605.9,642.1 607.4,639.0 608.9,636.1 610.4,633.6 612.0,631.7 613.5,630.6 615.0,629.7 616.5,628.9 618.0,628.1 619.5,627.5 621.0,626.9 622.5,626.4 624.1,626.1 625.6,625.9 627.1,625.8 860.8,625.0 862.8,625.5 864.8,626.0 866.9,626.6 868.9,627.3 870.9,627.9 872.9,628.7 875.0,629.5 877.0,630.3 879.0,631.1 881.0,632.0 883.0,632.9 885.1,633.8 887.1,634.8 889.1,635.8 891.1,636.8 893.2,637.9 895.2,639.2 897.2,640.5 899.2,641.8 901.3,643.2 903.3,644.7 905.3,646.1 907.3,647.5 909.3,648.9 911.4,650.3 913.4,651.8 915.4,653.2 917.4,654.7 919.5,656.2 921.5,657.7 923.5,659.2 925.5,660.7 927.5,662.2 929.6,663.6 931.6,665.1 933.6,666.5 935.6,668.0 937.7,669.4 939.7,670.8 941.7,672.3 943.7,673.8 945.7,675.3 947.8,676.9 949.8,678.5 951.8,680.1 953.8,681.8 955.9,683.5 957.9,685.3 959.9,687.1 961.9,688.9 964.0,690.8 966.0,692.7 968.0,694.7 970.0,696.7 972.0,698.7 974.1,700.9 976.1,703.0 978.1,705.3 980.1,707.6 982.2,710.0 984.2,712.5 986.2,715.1 988.2,717.9 990.2,720.9 992.3,723.9 994.3,727.1 996.3,730.3 998.3,733.6 1000.4,736.9 1002.4,740.2 1004.4,743.4 1006.4,746.6 1008.5,749.7 1010.5,752.8 1012.5,755.7 1014.5,758.7 1016.5,761.6 1018.6,764.6 1020.6,767.6 1022.6,770.5 1024.6,773.4 1026.7,776.3 1028.7,779.1 1030.7,781.9 1032.7,784.6 1034.7,787.2 1036.8,789.8 1038.8,792.2 1040.8,794.5 1042.8,796.8 1044.9,799.0 1046.9,801.1 1048.9,803.1 1050.9,805.0 1053.0,806.9 1055.0,808.6 1057.0,810.2 1059.0,811.8 1061.0,813.4 1063.1,814.8 1065.1,816.1 1067.1,817.4 1069.1,818.6 1071.2,819.7 1073.2,820.8 1075.2,821.8 1077.2,822.8 1079.2,823.7 1081.3,824.5 1083.3,825.2 1085.3,825.8 1087.3,826.3 1089.4,826.8 1091.4,827.3 1093.4,827.7 1095.4,828.1 1097.4,828.4 1099.5,828.6 1101.5,828.8 1103.5,829.0 1105.5,829.2 1107.6,829.3 1109.6,829.4 1868.5,829.4 1868.5,829.4 1870.0,829.3 1871.5,829.0 1873.1,828.6 1874.6,828.2 1876.1,827.7 1877.6,826.9 1879.1,826.0 1880.6,825.0 1882.1,823.9 1883.6,822.8 1885.2,821.5 1886.7,820.1 1888.2,818.5 1889.7,816.9 1891.2,815.1 1892.7,813.3 1894.2,811.3 1895.8,809.3 1897.3,807.3 1898.8,805.2 1900.3,802.9 1901.8,800.6 1903.3,798.1 1904.8,795.5 1906.3,792.8 1907.9,790.0 1909.4,787.1 1910.9,784.1 1912.4,781.1 1913.9,778.0 1915.4,774.9 1916.9,771.7 1918.5,768.4 1920.0,764.9 1921.5,761.3 1923.0,757.7 1924.5,753.9 1926.0,750.2 1927.5,746.3 1929.1,742.5 1930.6,738.7 1932.1,734.9 1933.6,731.1 1935.1,727.3 1936.6,723.5 1938.1,719.7 1939.6,715.9 1941.2,712.0 1942.7,708.1 1944.2,704.2 1945.7,700.1 1947.2,696.0 1948.7,691.8 1950.2,687.4 1951.8,682.9 1953.3,678.2 1954.8,673.5 1956.3,668.7 1957.8,663.9 1959.3,659.1 1960.8,654.5 1962.3,649.9 1963.9,645.5 1965.4,641.3 1966.9,637.1 1968.4,633.0 1969.9,629.0 1971.4,625.0 1972.9,621.1 1974.5,617.2 1976.0,613.5 1977.5,609.8 1979.0,606.2 1980.5,602.7 1982.0,599.2 1983.5,595.8 1985.1,592.4 1986.6,589.1 1988.1,585.8 1989.6,582.6 1991.1,579.5 1992.6,576.6 1994.1,573.8 1995.6,571.2 1997.2,568.7 1998.7,566.4 2000.2,564.0 2001.7,561.7 2003.2,559.6 2004.7,557.6 2006.2,555.9 2007.8,554.5 2009.3,553.6 2010.8,552.8 2012.3,552.1 2013.8,551.5 2015.3,550.9 2016.8,550.5 2018.3,550.2 2019.9,550.1 2021.4,550.2 2022.9,550.6 2024.4,551.3 2025.9,552.1 2027.4,553.1 2028.9,554.1 2030.5,555.2 2032.0,556.5 2033.5,558.2 2035.0,560.1 2036.5,562.3 2038.0,564.7 2039.5,567.4 2041.1,571.0 2042.6,575.5 2044.1,580.8 2045.6,586.6 2047.1,592.5 2048.6,598.3 2050.1,603.8 2051.6,609.5 2053.2,615.4 2054.7,621.3 2056.2,627.3 2057.7,633.2 2059.2,639.0 2060.7,644.4 2062.2,649.4 2063.8,654.2 2065.3,659.0 2066.8,663.6 2068.3,667.9 2069.8,671.8 2071.3,675.0 2072.8,677.6 2074.3,680.1 2075.9,682.5 2077.4,684.7 2078.9,686.7 2080.4,688.5 2081.9,689.8 2083.4,690.7 2084.9,691.1 2086.5,690.9 2088.0,690.3 2089.5,689.4 2091.0,688.2 2092.5,686.7 2094.0,685.0 2095.5,683.2 2097.1,681.3 2098.6,679.3 2100.1,676.7 2101.6,673.3 2103.1,669.3 2104.6,665.0 2106.1,660.6 2107.6,656.2 2109.2,652.1 2110.7,648.4 2112.2,645.3 2113.7,642.1 2115.2,639.0 2116.7,636.1 2118.2,633.6 2119.8,631.7 2121.3,630.6 2122.8,629.7 2124.3,628.9 2125.8,628.1 2127.3,627.5 2128.8,626.9 2130.3,626.4 2131.9,626.1 2133.4,625.9 2134.9,625.8 2241.0,625.5" fill="none" stroke="#ffb000" stroke-width="2.8" stroke-linejoin="round" stroke-linecap="round" />
<polyline points="180.8,829.4 863.3,829.4 863.3,829.4 864.8,829.3 866.3,829.0 867.9,828.6 869.4,828.2 870.9,827.7 872.4,826.9 873.9,826.0 875.4,825.0 876.9,823.9 878.4,822.8 880.0,821.5 881.5,820.1 883.0,818.5 884.5,816.9 886.0,815.1 887.5,813.3 889.0,811.3 890.6,809.3 892.1,807.3 893.6,805.2 895.1,802.9 896.6,800.6 898.1,798.1 899.6,795.5 901.1,792.8 902.7,790.0 904.2,787.1 905.7,784.1 907.2,781.1 908.7,778.0 910.2,774.9 911.7,771.7 913.3,768.4 914.8,764.9 916.3,761.3 917.8,757.7 919.3,753.9 920.8,750.2 922.3,746.3 923.9,742.5 925.4,738.7 926.9,734.9 928.4,731.1 929.9,727.3 931.4,723.5 932.9,719.7 934.4,715.9 936.0,712.0 937.5,708.1 939.0,704.2 940.5,700.1 942.0,696.0 943.5,691.8 945.0,687.4 946.6,682.9 948.1,678.2 949.6,673.5 951.1,668.7 952.6,663.9 954.1,659.1 955.6,654.5 957.1,649.9 958.7,645.5 960.2,641.3 961.7,637.1 963.2,633.0 964.7,629.0 966.2,625.0 967.7,621.1 969.3,617.2 970.8,613.5 972.3,609.8 973.8,606.2 975.3,602.7 976.8,599.2 978.3,595.8 979.9,592.4 981.4,589.1 982.9,585.8 984.4,582.6 985.9,579.5 987.4,576.6 988.9,573.8 990.4,571.2 992.0,568.7 993.5,566.4 995.0,564.0 996.5,561.7 998.0,559.6 999.5,557.6 1001.0,555.9 1002.6,554.5 1004.1,553.6 1005.6,552.8 1007.1,552.1 1008.6,551.5 1010.1,550.9 1011.6,550.5 1013.1,550.2 1014.7,550.1 1016.2,550.2 1017.7,550.6 1019.2,551.3 1020.7,552.1 1022.2,553.1 1023.7,554.1 1025.3,555.2 1026.8,556.5 1028.3,558.2 1029.8,560.1 1031.3,562.3 1032.8,564.7 1034.3,567.4 1035.9,571.0 1037.4,575.5 1038.9,580.8 1040.4,586.6 1041.9,592.5 1043.4,598.3 1044.9,603.8 1046.4,609.5 1048.0,615.4 1049.5,621.3 1051.0,627.3 1052.5,633.2 1054.0,639.0 1055.5,644.4 1057.0,649.4 1058.6,654.2 1060.1,659.0 1061.6,663.6 1063.1,667.9 1064.6,671.8 1066.1,675.0 1067.6,677.6 1069.1,680.1 1070.7,682.5 1072.2,684.7 1073.7,686.7 1075.2,688.5 1076.7,689.8 1078.2,690.7 1079.7,691.1 1081.3,690.9 1082.8,690.3 1084.3,689.4 1085.8,688.2 1087.3,686.7 1088.8,685.0 1090.3,683.2 1091.9,681.3 1093.4,679.3 1094.9,676.7 1096.4,673.3 1097.9,669.3 1099.4,665.0 1100.9,660.6 1102.4,656.2 1104.0,652.1 1105.5,648.4 1107.0,645.3 1108.5,642.1 1110.0,639.0 1111.5,636.1 1113.0,633.6 1114.6,631.7 1116.1,630.6 1117.6,629.7 1119.1,628.9 1120.6,628.1 1122.1,627.5 1123.6,626.9 1125.1,626.4 1126.7,626.1 1128.2,625.9 1129.7,625.8 1363.4,625.0 1365.4,625.5 1367.4,626.0 1369.5,626.6 1371.5,627.3 1373.5,627.9 1375.5,628.7 1377.6,629.5 1379.6,630.3 1381.6,631.1 1383.6,632.0 1385.6,632.9 1387.7,633.8 1389.7,634.8 1391.7,635.8 1393.7,636.8 1395.8,637.9 1397.8,639.2 1399.8,640.5 1401.8,641.8 1403.9,643.2 1405.9,644.7 1407.9,646.1 1409.9,647.5 1411.9,648.9 1414.0,650.3 1416.0,651.8 1418.0,653.2 1420.0,654.7 1422.1,656.2 1424.1,657.7 1426.1,659.2 1428.1,660.7 1430.1,662.2 1432.2,663.6 1434.2,665.1 1436.2,666.5 1438.2,668.0 1440.3,669.4 1442.3,670.8 1444.3,672.3 1446.3,673.8 1448.3,675.3 1450.4,676.9 1452.4,678.5 1454.4,680.1 1456.4,681.8 1458.5,683.5 1460.5,685.3 1462.5,687.1 1464.5,688.9 1466.6,690.8 1468.6,692.7 1470.6,694.7 1472.6,696.7 1474.6,698.7 1476.7,700.9 1478.7,703.0 1480.7,705.3 1482.7,707.6 1484.8,710.0 1486.8,712.5 1488.8,715.1 1490.8,717.9 1492.8,720.9 1494.9,723.9 1496.9,727.1 1498.9,730.3 1500.9,733.6 1503.0,736.9 1505.0,740.2 1507.0,743.4 1509.0,746.6 1511.1,749.7 1513.1,752.8 1515.1,755.7 1517.1,758.7 1519.1,761.6 1521.2,764.6 1523.2,767.6 1525.2,770.5 1527.2,773.4 1529.3,776.3 1531.3,779.1 1533.3,781.9 1535.3,784.6 1537.3,787.2 1539.4,789.8 1541.4,792.2 1543.4,794.5 1545.4,796.8 1547.5,799.0 1549.5,801.1 1551.5,803.1 1553.5,805.0 1555.6,806.9 1557.6,808.6 1559.6,810.2 1561.6,811.8 1563.6,813.4 1565.7,814.8 1567.7,816.1 1569.7,817.4 1571.7,818.6 1573.8,819.7 1575.8,820.8 1577.8,821.8 1579.8,822.8 1581.8,823.7 1583.9,824.5 1585.9,825.2 1587.9,825.8 1589.9,826.3 1592.0,826.8 1594.0,827.3 1596.0,827.7 1598.0,828.1 1600.0,828.4 1602.1,828.6 1604.1,828.8 1606.1,829.0 1608.1,829.2 1610.2,829.3 1612.2,829.4 2241.0,829.4" fill="none" stroke="#0000ff" stroke-width="4.6" stroke-linejoin="round" stroke-linecap="round" />
<polyline points="180.8,625.6 358.2,625.0 360.2,625.5 362.2,626.0 364.3,626.6 366.3,627.3 368.3,627.9 370.3,628.7 372.4,629.5 374.4,630.3 376.4,631.1 378.4,632.0 380.4,632.9 382.5,633.8 384.5,634.8 386.5,635.8 388.5,636.8 390.6,637.9 392.6,639.2 394.6,640.5 396.6,641.8 398.7,643.2 400.7,644.7 402.7,646.1 404.7,647.5 406.7,648.9 408.8,650.3 410.8,651.8 412.8,653.2 414.8,654.7 416.9,656.2 418.9,657.7 420.9,659.2 422.9,660.7 424.9,662.2 427.0,663.6 429.0,665.1 431.0,666.5 433.0,668.0 435.1,669.4 437.1,670.8 439.1,672.3 441.1,673.8 443.1,675.3 445.2,676.9 447.2,678.5 449.2,680.1 451.2,681.8 453.3,683.5 455.3,685.3 457.3,687.1 459.3,688.9 461.4,690.8 463.4,692.7 465.4,694.7 467.4,696.7 469.4,698.7 471.5,700.9 473.5,703.0 475.5,705.3 477.5,707.6 479.6,710.0 481.6,712.5 483.6,715.1 485.6,717.9 487.6,720.9 489.7,723.9 491.7,727.1 493.7,730.3 495.7,733.6 497.8,736.9 499.8,740.2 501.8,743.4 503.8,746.6 505.9,749.7 507.9,752.8 509.9,755.7 511.9,758.7 513.9,761.6 516.0,764.6 518.0,767.6 520.0,770.5 522.0,773.4 524.1,776.3 526.1,779.1 528.1,781.9 530.1,784.6 532.1,787.2 534.2,789.8 536.2,792.2 538.2,794.5 540.2,796.8 542.3,799.0 544.3,801.1 546.3,803.1 548.3,805.0 550.4,806.9 552.4,808.6 554.4,810.2 556.4,811.8 558.4,813.4 560.5,814.8 562.5,816.1 564.5,817.4 566.5,818.6 568.6,819.7 570.6,820.8 572.6,821.8 574.6,822.8 576.6,823.7 578.7,824.5 580.7,825.2 582.7,825.8 584.7,826.3 586.8,826.8 588.8,827.3 590.8,827.7 592.8,828.1 594.8,828.4 596.9,828.6 598.9,828.8 600.9,829.0 602.9,829.2 605.0,829.3 607.0,829.4 1365.9,829.4 1365.9,829.4 1367.4,829.3 1368.9,829.0 1370.5,828.6 1372.0,828.2 1373.5,827.7 1375.0,826.9 1376.5,826.0 1378.0,825.0 1379.5,823.9 1381.0,822.8 1382.6,821.5 1384.1,820.1 1385.6,818.5 1387.1,816.9 1388.6,815.1 1390.1,813.3 1391.6,811.3 1393.2,809.3 1394.7,807.3 1396.2,805.2 1397.7,802.9 1399.2,800.6 1400.7,798.1 1402.2,795.5 1403.7,792.8 1405.3,790.0 1406.8,787.1 1408.3,784.1 1409.8,781.1 1411.3,778.0 1412.8,774.9 1414.3,771.7 1415.9,768.4 1417.4,764.9 1418.9,761.3 1420.4,757.7 1421.9,753.9 1423.4,750.2 1424.9,746.3 1426.5,742.5 1428.0,738.7 1429.5,734.9 1431.0,731.1 1432.5,727.3 1434.0,723.5 1435.5,719.7 1437.0,715.9 1438.6,712.0 1440.1,708.1 1441.6,704.2 1443.1,700.1 1444.6,696.0 1446.1,691.8 1447.6,687.4 1449.2,682.9 1450.7,678.2 1452.2,673.5 1453.7,668.7 1455.2,663.9 1456.7,659.1 1458.2,654.5 1459.7,649.9 1461.3,645.5 1462.8,641.3 1464.3,637.1 1465.8,633.0 1467.3,629.0 1468.8,625.0 1470.3,621.1 1471.9,617.2 1473.4,613.5 1474.9,609.8 1476.4,606.2 1477.9,602.7 1479.4,599.2 1480.9,595.8 1482.5,592.4 1484.0,589.1 1485.5,585.8 1487.0,582.6 1488.5,579.5 1490.0,576.6 1491.5,573.8 1493.0,571.2 1494.6,568.7 1496.1,566.4 1497.6,564.0 1499.1,561.7 1500.6,559.6 1502.1,557.6 1503.6,555.9 1505.2,554.5 1506.7,553.6 1508.2,552.8 1509.7,552.1 1511.2,551.5 1512.7,550.9 1514.2,550.5 1515.7,550.2 1517.3,550.1 1518.8,550.2 1520.3,550.6 1521.8,551.3 1523.3,552.1 1524.8,553.1 1526.3,554.1 1527.9,555.2 1529.4,556.5 1530.9,558.2 1532.4,560.1 1533.9,562.3 1535.4,564.7 1536.9,567.4 1538.5,571.0 1540.0,575.5 1541.5,580.8 1543.0,586.6 1544.5,592.5 1546.0,598.3 1547.5,603.8 1549.0,609.5 1550.6,615.4 1552.1,621.3 1553.6,627.3 1555.1,633.2 1556.6,639.0 1558.1,644.4 1559.6,649.4 1561.2,654.2 1562.7,659.0 1564.2,663.6 1565.7,667.9 1567.2,671.8 1568.7,675.0 1570.2,677.6 1571.7,680.1 1573.3,682.5 1574.8,684.7 1576.3,686.7 1577.8,688.5 1579.3,689.8 1580.8,690.7 1582.3,691.1 1583.9,690.9 1585.4,690.3 1586.9,689.4 1588.4,688.2 1589.9,686.7 1591.4,685.0 1592.9,683.2 1594.5,681.3 1596.0,679.3 1597.5,676.7 1599.0,673.3 1600.5,669.3 1602.0,665.0 1603.5,660.6 1605.0,656.2 1606.6,652.1 1608.1,648.4 1609.6,645.3 1611.1,642.1 1612.6,639.0 1614.1,636.1 1615.6,633.6 1617.2,631.7 1618.7,630.6 1620.2,629.7 1621.7,628.9 1623.2,628.1 1624.7,627.5 1626.2,626.9 1627.7,626.4 1629.3,626.1 1630.8,625.9 1632.3,625.8 1866.0,625.0 1868.0,625.5 1870.0,626.0 1872.1,626.6 1874.1,627.3 1876.1,627.9 1878.1,628.7 1880.2,629.5 1882.2,630.3 1884.2,631.1 1886.2,632.0 1888.2,632.9 1890.3,633.8 1892.3,634.8 1894.3,635.8 1896.3,636.8 1898.4,637.9 1900.4,639.2 1902.4,640.5 1904.4,641.8 1906.5,643.2 1908.5,644.7 1910.5,646.1 1912.5,647.5 1914.5,648.9 1916.6,650.3 1918.6,651.8 1920.6,653.2 1922.6,654.7 1924.7,656.2 1926.7,657.7 1928.7,659.2 1930.7,660.7 1932.7,662.2 1934.8,663.6 1936.8,665.1 1938.8,666.5 1940.8,668.0 1942.9,669.4 1944.9,670.8 1946.9,672.3 1948.9,673.8 1950.9,675.3 1953.0,676.9 1955.0,678.5 1957.0,680.1 1959.0,681.8 1961.1,683.5 1963.1,685.3 1965.1,687.1 1967.1,688.9 1969.2,690.8 1971.2,692.7 1973.2,694.7 1975.2,696.7 1977.2,698.7 1979.3,700.9 1981.3,703.0 1983.3,705.3 1985.3,707.6 1987.4,710.0 1989.4,712.5 1991.4,715.1 1993.4,717.9 1995.4,720.9 1997.5,723.9 1999.5,727.1 2001.5,730.3 2003.5,733.6 2005.6,736.9 2007.6,740.2 2009.6,743.4 2011.6,746.6 2013.7,749.7 2015.7,752.8 2017.7,755.7 2019.7,758.7 2021.7,761.6 2023.8,764.6 2025.8,767.6 2027.8,770.5 2029.8,773.4 2031.9,776.3 2033.9,779.1 2035.9,781.9 2037.9,784.6 2039.9,787.2 2042.0,789.8 2044.0,792.2 2046.0,794.5 2048.0,796.8 2050.1,799.0 2052.1,801.1 2054.1,803.1 2056.1,805.0 2058.2,806.9 2060.2,808.6 2062.2,810.2 2064.2,811.8 2066.2,813.4 2068.3,814.8 2070.3,816.1 2072.3,817.4 2074.3,818.6 2076.4,819.7 2078.4,820.8 2080.4,821.8 2082.4,822.8 2084.4,823.7 2086.5,824.5 2088.5,825.2 2090.5,825.8 2092.5,826.3 2094.6,826.8 2096.6,827.3 2098.6,827.7 2100.6,828.1 2102.6,828.4 2104.7,828.6 2106.7,828.8 2108.7,829.0 2110.7,829.2 2112.8,829.3 2114.8,829.4 2241.0,829.4" fill="none" stroke="#ff5000" stroke-width="2.8" stroke-linejoin="round" stroke-linecap="round" />
<polyline points="180.8,829.5 182.3,829.4 858.3,829.4 883.4,829.4 884.9,829.4 886.4,829.3 887.9,829.2 889.4,829.1 891.0,828.9 892.5,828.7 894.0,828.5 895.5,828.3 897.0,828.1 898.5,827.8 900.0,827.6 901.5,827.2 903.0,826.7 904.5,826.2 906.0,825.7 907.5,825.0 909.0,824.4 910.6,823.7 912.1,823.1 913.6,822.4 915.1,821.7 916.6,821.0 918.1,820.2 919.6,819.4 921.1,818.5 922.6,817.6 924.1,816.7 925.6,815.8 927.1,814.8 928.6,813.9 930.2,812.9 931.7,811.8 933.2,810.8 934.7,809.7 936.2,808.6 937.7,807.4 939.2,806.2 940.7,805.0 942.2,803.8 943.7,802.6 945.2,801.3 946.7,800.1 948.3,798.8 949.8,797.5 951.3,796.1 952.8,794.7 954.3,793.3 955.8,791.8 957.3,790.2 958.8,788.6 960.3,786.9 961.8,785.0 963.3,783.1 964.8,781.0 966.3,778.9 967.9,776.7 969.4,774.5 970.9,772.2 972.4,769.9 973.9,767.6 975.4,765.3 976.9,762.9 978.4,760.5 979.9,758.1 981.4,755.6 982.9,753.1 984.4,750.5 985.9,747.9 987.5,745.2 989.0,742.5 990.5,739.7 992.0,736.8 993.5,733.8 995.0,730.8 996.5,727.7 998.0,724.6 999.5,721.3 1001.0,717.9 1002.5,714.4 1004.0,710.8 1005.5,707.1 1007.1,703.3 1008.6,699.3 1010.1,695.2 1011.6,691.0 1013.1,686.6 1014.6,681.8 1016.1,676.7 1017.6,671.5 1019.1,666.1 1020.6,660.5 1022.1,655.0 1023.6,649.5 1025.1,644.1 1026.7,638.7 1028.2,633.3 1029.7,627.8 1031.2,622.3 1032.7,616.9 1034.2,611.5 1035.7,606.2 1037.2,600.9 1038.7,595.7 1040.2,590.6 1041.7,585.5 1043.2,580.4 1044.8,581.9 1046.3,583.4 1047.8,584.9 1049.3,586.5 1050.8,588.1 1052.4,589.7 1053.9,591.4 1055.4,593.0 1056.9,594.7 1058.4,596.4 1060.0,598.1 1061.5,599.9 1063.0,601.6 1064.5,603.4 1066.1,605.2 1067.6,607.1 1069.1,609.0 1070.6,610.9 1072.1,612.9 1073.7,614.9 1075.2,617.0 1076.7,619.1 1078.2,621.2 1079.7,623.4 1081.3,625.7 1082.8,628.0 1084.3,630.3 1085.8,632.8 1087.3,635.3 1088.9,637.9 1090.4,640.7 1091.9,643.5 1093.4,646.5 1094.9,649.6 1096.5,652.8 1098.0,656.1 1099.5,659.5 1101.0,663.0 1102.5,666.6 1107.1,641.0 1110.6,650.7 1114.6,623.5 1118.6,637.1 1124.7,617.7 1131.4,638.1 1138.2,618.7 1145.0,637.1 1151.8,616.7 1158.6,636.1 1165.4,617.6 1172.2,638.1 1178.9,618.7 1185.7,637.2 1192.5,616.7 1199.3,636.0 1206.1,617.6 1212.9,638.1 1219.7,618.7 1226.4,637.2 1233.2,616.7 1240.0,636.0 1246.8,617.6 1253.6,638.0 1260.4,618.7 1267.1,637.2 1273.9,616.7 1280.7,636.0 1287.5,617.5 1294.3,638.0 1301.1,618.8 1307.9,637.3 1314.6,616.8 1321.4,636.0 1328.2,617.5 1335.0,638.0 1341.8,618.8 1348.6,637.3 1355.4,616.8 1362.1,636.0 1365.9,620.9 1377.0,634.5 1380.5,626.4 1391.5,640.0 1395.1,632.8 1406.1,649.4 1409.6,642.2 1420.7,659.6 1424.2,652.7 1435.3,670.3 1438.8,663.5 1449.8,681.2 1453.4,674.4 1464.4,694.0 1467.9,688.1 1479.0,708.6 1482.5,702.8 1493.6,727.4 1497.1,723.3 1508.1,749.5 1511.7,746.4 1522.7,769.6 1526.2,767.9 1537.3,788.9 1540.8,789.2 1551.9,804.6 1555.4,805.3 1566.4,815.9 1570.0,816.8 1581.0,823.3 1584.5,824.1 1595.6,827.5 1597.1,827.5 1612.2,830.6 1634.8,832.9 1662.4,831.7 1690.1,829.4 2241.0,829.4" fill="none" stroke="#8e248e" stroke-width="2.8" stroke-linejoin="round" stroke-linecap="round" />
<polyline points="180.8,636.3 187.3,616.7 194.1,636.0 200.9,617.6 207.7,638.1 214.5,618.7 221.2,637.2 228.0,616.7 234.8,636.0 241.6,617.6 248.4,638.0 255.2,618.7 261.9,637.2 268.7,616.7 275.5,636.0 282.3,617.5 289.1,638.0 295.9,618.8 302.7,637.3 309.4,616.8 316.2,636.0 323.0,617.5 329.8,638.0 336.6,618.8 343.4,637.3 350.2,616.8 356.9,636.0 360.7,620.9 371.8,634.5 375.3,626.4 386.3,640.0 389.9,632.8 400.9,649.4 404.4,642.2 415.5,659.6 419.0,652.7 430.1,670.3 433.6,663.5 444.6,681.2 448.2,674.4 459.2,694.0 462.7,688.1 473.8,708.6 477.3,702.8 488.4,727.4 491.9,723.3 502.9,749.5 506.5,746.4 517.5,769.6 521.0,767.9 532.1,788.9 535.6,789.2 546.7,804.6 550.2,805.3 561.2,815.9 564.8,816.8 575.8,823.3 579.3,824.1 590.4,827.5 591.9,827.5 607.0,830.6 629.6,832.9 657.2,831.7 684.9,829.4 1360.9,829.4 1386.0,829.4 1387.5,829.4 1389.0,829.3 1390.5,829.2 1392.0,829.1 1393.6,828.9 1395.1,828.7 1396.6,828.5 1398.1,828.3 1399.6,828.1 1401.1,827.8 1402.6,827.6 1404.1,827.2 1405.6,826.7 1407.1,826.2 1408.6,825.7 1410.1,825.0 1411.6,824.4 1413.2,823.7 1414.7,823.1 1416.2,822.4 1417.7,821.7 1419.2,821.0 1420.7,820.2 1422.2,819.4 1423.7,818.5 1425.2,817.6 1426.7,816.7 1428.2,815.8 1429.7,814.8 1431.2,813.9 1432.8,812.9 1434.3,811.8 1435.8,810.8 1437.3,809.7 1438.8,808.6 1440.3,807.4 1441.8,806.2 1443.3,805.0 1444.8,803.8 1446.3,802.6 1447.8,801.3 1449.3,800.1 1450.9,798.8 1452.4,797.5 1453.9,796.1 1455.4,794.7 1456.9,793.3 1458.4,791.8 1459.9,790.2 1461.4,788.6 1462.9,786.9 1464.4,785.0 1465.9,783.1 1467.4,781.0 1468.9,778.9 1470.5,776.7 1472.0,774.5 1473.5,772.2 1475.0,769.9 1476.5,767.6 1478.0,765.3 1479.5,762.9 1481.0,760.5 1482.5,758.1 1484.0,755.6 1485.5,753.1 1487.0,750.5 1488.5,747.9 1490.1,745.2 1491.6,742.5 1493.1,739.7 1494.6,736.8 1496.1,733.8 1497.6,730.8 1499.1,727.7 1500.6,724.6 1502.1,721.3 1503.6,717.9 1505.1,714.4 1506.6,710.8 1508.1,707.1 1509.7,703.3 1511.2,699.3 1512.7,695.2 1514.2,691.0 1515.7,686.6 1517.2,681.8 1518.7,676.7 1520.2,671.5 1521.7,666.1 1523.2,660.5 1524.7,655.0 1526.2,649.5 1527.7,644.1 1529.3,638.7 1530.8,633.3 1532.3,627.8 1533.8,622.3 1535.3,616.9 1536.8,611.5 1538.3,606.2 1539.8,600.9 1541.3,595.7 1542.8,590.6 1544.3,585.5 1545.8,580.4 1547.4,581.9 1548.9,583.4 1550.4,584.9 1551.9,586.5 1553.4,588.1 1555.0,589.7 1556.5,591.4 1558.0,593.0 1559.5,594.7 1561.0,596.4 1562.6,598.1 1564.1,599.9 1565.6,601.6 1567.1,603.4 1568.7,605.2 1570.2,607.1 1571.7,609.0 1573.2,610.9 1574.7,612.9 1576.3,614.9 1577.8,617.0 1579.3,619.1 1580.8,621.2 1582.3,623.4 1583.9,625.7 1585.4,628.0 1586.9,630.3 1588.4,632.8 1589.9,635.3 1591.5,637.9 1593.0,640.7 1594.5,643.5 1596.0,646.5 1597.5,649.6 1599.1,652.8 1600.6,656.1 1602.1,659.5 1603.6,663.0 1605.1,666.6 1609.7,641.0 1613.2,650.7 1617.2,623.5 1621.2,637.1 1627.3,617.7 1634.0,638.1 1640.8,618.7 1647.6,637.1 1654.4,616.7 1661.2,636.1 1668.0,617.6 1674.8,638.1 1681.5,618.7 1688.3,637.2 1695.1,616.7 1701.9,636.0 1708.7,617.6 1715.5,638.1 1722.3,618.7 1729.0,637.2 1735.8,616.7 1742.6,636.0 1749.4,617.6 1756.2,638.0 1763.0,618.7 1769.7,637.2 1776.5,616.7 1783.3,636.0 1790.1,617.5 1796.9,638.0 1803.7,618.8 1810.5,637.3 1817.2,616.8 1824.0,636.0 1830.8,617.5 1837.6,638.0 1844.4,618.8 1851.2,637.3 1858.0,616.8 1864.7,636.0 1868.5,620.9 1879.6,634.5 1883.1,626.4 1894.1,640.0 1897.7,632.8 1908.7,649.4 1912.2,642.2 1923.3,659.6 1926.8,652.7 1937.9,670.3 1941.4,663.5 1952.4,681.2 1956.0,674.4 1967.0,694.0 1970.5,688.1 1981.6,708.6 1985.1,702.8 1996.2,727.4 1999.7,723.3 2010.7,749.5 2014.3,746.4 2025.3,769.6 2028.8,767.9 2039.9,788.9 2043.4,789.2 2054.5,804.6 2058.0,805.3 2069.0,815.9 2072.6,816.8 2083.6,823.3 2087.1,824.1 2098.2,827.5 2099.7,827.5 2114.8,830.6 2137.4,832.9 2165.0,831.7 2192.7,829.4 2241.0,829.4" fill="none" stroke="#50ac16" stroke-width="3.0" stroke-linejoin="round" stroke-linecap="round" />
<polyline points="180.8,829.4 355.7,829.4 380.8,829.4 382.3,829.4 383.8,829.3 385.3,829.2 386.8,829.1 388.4,828.9 389.9,828.7 391.4,828.5 392.9,828.3 394.4,828.1 395.9,827.8 397.4,827.6 398.9,827.2 400.4,826.7 401.9,826.2 403.4,825.7 404.9,825.0 406.4,824.4 408.0,823.7 409.5,823.1 411.0,822.4 412.5,821.7 414.0,821.0 415.5,820.2 417.0,819.4 418.5,818.5 420.0,817.6 421.5,816.7 423.0,815.8 424.5,814.8 426.0,813.9 427.6,812.9 429.1,811.8 430.6,810.8 432.1,809.7 433.6,808.6 435.1,807.4 436.6,806.2 438.1,805.0 439.6,803.8 441.1,802.6 442.6,801.3 444.1,800.1 445.7,798.8 447.2,797.5 448.7,796.1 450.2,794.7 451.7,793.3 453.2,791.8 454.7,790.2 456.2,788.6 457.7,786.9 459.2,785.0 460.7,783.1 462.2,781.0 463.7,778.9 465.3,776.7 466.8,774.5 468.3,772.2 469.8,769.9 471.3,767.6 472.8,765.3 474.3,762.9 475.8,760.5 477.3,758.1 478.8,755.6 480.3,753.1 481.8,750.5 483.3,747.9 484.9,745.2 486.4,742.5 487.9,739.7 489.4,736.8 490.9,733.8 492.4,730.8 493.9,727.7 495.4,724.6 496.9,721.3 498.4,717.9 499.9,714.4 501.4,710.8 502.9,707.1 504.5,703.3 506.0,699.3 507.5,695.2 509.0,691.0 510.5,686.6 512.0,681.8 513.5,676.7 515.0,671.5 516.5,666.1 518.0,660.5 519.5,655.0 521.0,649.5 522.5,644.1 524.1,638.7 525.6,633.3 527.1,627.8 528.6,622.3 530.1,616.9 531.6,611.5 533.1,606.2 534.6,600.9 536.1,595.7 537.6,590.6 539.1,585.5 540.6,580.4 542.2,581.9 543.7,583.4 545.2,584.9 546.7,586.5 548.2,588.1 549.8,589.7 551.3,591.4 552.8,593.0 554.3,594.7 555.8,596.4 557.4,598.1 558.9,599.9 560.4,601.6 561.9,603.4 563.5,605.2 565.0,607.1 566.5,609.0 568.0,610.9 569.5,612.9 571.1,614.9 572.6,617.0 574.1,619.1 575.6,621.2 577.1,623.4 578.7,625.7 580.2,628.0 581.7,630.3 583.2,632.8 584.7,635.3 586.3,637.9 587.8,640.7 589.3,643.5 590.8,646.5 592.3,649.6 593.9,652.8 595.4,656.1 596.9,659.5 598.4,663.0 599.9,666.6 604.5,641.0 608.0,650.7 612.0,623.5 616.0,637.1 622.1,617.7 628.8,638.1 635.6,618.7 642.4,637.1 649.2,616.7 656.0,636.1 662.8,617.6 669.6,638.1 676.3,618.7 683.1,637.2 689.9,616.7 696.7,636.0 703.5,617.6 710.3,638.1 717.1,618.7 723.8,637.2 730.6,616.7 737.4,636.0 744.2,617.6 751.0,638.0 757.8,618.7 764.5,637.2 771.3,616.7 778.1,636.0 784.9,617.5 791.7,638.0 798.5,618.8 805.3,637.3 812.0,616.8 818.8,636.0 825.6,617.5 832.4,638.0 839.2,618.8 846.0,637.3 852.8,616.8 859.5,636.0 863.3,620.9 874.4,634.5 877.9,626.4 888.9,640.0 892.5,632.8 903.5,649.4 907.0,642.2 918.1,659.6 921.6,652.7 932.7,670.3 936.2,663.5 947.2,681.2 950.8,674.4 961.8,694.0 965.3,688.1 976.4,708.6 979.9,702.8 991.0,727.4 994.5,723.3 1005.5,749.5 1009.1,746.4 1020.1,769.6 1023.6,767.9 1034.7,788.9 1038.2,789.2 1049.3,804.6 1052.8,805.3 1063.8,815.9 1067.4,816.8 1078.4,823.3 1081.9,824.1 1093.0,827.5 1094.5,827.5 1109.6,830.6 1132.2,832.9 1159.8,831.7 1187.5,829.4 1863.5,829.4 1888.6,829.4 1890.1,829.4 1891.6,829.3 1893.1,829.2 1894.6,829.1 1896.2,828.9 1897.7,828.7 1899.2,828.5 1900.7,828.3 1902.2,828.1 1903.7,827.8 1905.2,827.6 1906.7,827.2 1908.2,826.7 1909.7,826.2 1911.2,825.7 1912.7,825.0 1914.2,824.4 1915.8,823.7 1917.3,823.1 1918.8,822.4 1920.3,821.7 1921.8,821.0 1923.3,820.2 1924.8,819.4 1926.3,818.5 1927.8,817.6 1929.3,816.7 1930.8,815.8 1932.3,814.8 1933.8,813.9 1935.4,812.9 1936.9,811.8 1938.4,810.8 1939.9,809.7 1941.4,808.6 1942.9,807.4 1944.4,806.2 1945.9,805.0 1947.4,803.8 1948.9,802.6 1950.4,801.3 1951.9,800.1 1953.5,798.8 1955.0,797.5 1956.5,796.1 1958.0,794.7 1959.5,793.3 1961.0,791.8 1962.5,790.2 1964.0,788.6 1965.5,786.9 1967.0,785.0 1968.5,783.1 1970.0,781.0 1971.5,778.9 1973.1,776.7 1974.6,774.5 1976.1,772.2 1977.6,769.9 1979.1,767.6 1980.6,765.3 1982.1,762.9 1983.6,760.5 1985.1,758.1 1986.6,755.6 1988.1,753.1 1989.6,750.5 1991.1,747.9 1992.7,745.2 1994.2,742.5 1995.7,739.7 1997.2,736.8 1998.7,733.8 2000.2,730.8 2001.7,727.7 2003.2,724.6 2004.7,721.3 2006.2,717.9 2007.7,714.4 2009.2,710.8 2010.7,707.1 2012.3,703.3 2013.8,699.3 2015.3,695.2 2016.8,691.0 2018.3,686.6 2019.8,681.8 2021.3,676.7 2022.8,671.5 2024.3,666.1 2025.8,660.5 2027.3,655.0 2028.8,649.5 2030.3,644.1 2031.9,638.7 2033.4,633.3 2034.9,627.8 2036.4,622.3 2037.9,616.9 2039.4,611.5 2040.9,606.2 2042.4,600.9 2043.9,595.7 2045.4,590.6 2046.9,585.5 2048.4,580.4 2050.0,581.9 2051.5,583.4 2053.0,584.9 2054.5,586.5 2056.0,588.1 2057.6,589.7 2059.1,591.4 2060.6,593.0 2062.1,594.7 2063.6,596.4 2065.2,598.1 2066.7,599.9 2068.2,601.6 2069.7,603.4 2071.3,605.2 2072.8,607.1 2074.3,609.0 2075.8,610.9 2077.3,612.9 2078.9,614.9 2080.4,617.0 2081.9,619.1 2083.4,621.2 2084.9,623.4 2086.5,625.7 2088.0,628.0 2089.5,630.3 2091.0,632.8 2092.5,635.3 2094.1,637.9 2095.6,640.7 2097.1,643.5 2098.6,646.5 2100.1,649.6 2101.7,652.8 2103.2,656.1 2104.7,659.5 2106.2,663.0 2107.7,666.6 2112.3,641.0 2115.8,650.7 2119.8,623.5 2123.8,637.1 2129.9,617.7 2136.6,638.1 2143.4,618.7 2150.2,637.1 2157.0,616.7 2163.8,636.1 2170.6,617.6 2177.4,638.1 2184.1,618.7 2190.9,637.2 2197.7,616.7 2204.5,636.0 2211.3,617.6 2218.1,638.1 2224.9,618.7 2231.6,637.2 2238.4,616.7 2241.0,624.0" fill="none" stroke="#00bbee" stroke-width="2.8" stroke-linejoin="round" stroke-linecap="round" />
<polyline points="174.8,1299.9 872.0,1299.9 872.5,1299.9 1043.5,1043.7 1102.7,1147.2 1109.3,1139.4 1116.1,1149.6 1122.9,1145.8 1129.8,1158.4 1136.6,1154.9 1143.4,1164.7 1150.3,1158.8 1157.1,1168.5 1163.9,1162.7 1170.8,1172.4 1177.6,1166.1 1184.4,1173.9 1191.2,1166.1 1198.1,1173.9 1204.9,1166.1 1211.7,1173.9 1218.6,1166.1 1225.4,1173.9 1232.2,1166.1 1239.1,1173.9 1245.9,1166.1 1252.7,1173.9 1259.6,1166.1 1266.4,1173.9 1273.2,1166.1 1280.1,1173.7 1286.9,1165.5 1293.7,1172.9 1300.5,1164.6 1307.4,1172.0 1314.2,1163.8 1321.0,1171.1 1327.9,1162.9 1334.7,1170.2 1341.5,1162.0 1348.4,1169.3 1355.2,1161.1 1362.0,1168.4 1368.9,1160.2 1375.7,1167.6 1382.5,1160.2 1389.3,1168.9 1396.2,1162.0 1403.0,1170.7 1409.8,1163.9 1416.7,1172.6 1423.5,1165.7 1430.3,1174.6 1437.2,1167.9 1444.0,1176.8 1450.8,1170.2 1457.7,1179.0 1464.5,1172.3 1471.3,1181.1 1478.2,1174.7 1485.0,1183.9 1491.8,1177.7 1498.6,1187.3 1505.5,1181.4 1511.0,1186.8 1667.9,1299.9 2249.8,1299.9" fill="none" stroke="#ff0000" stroke-width="4.6" stroke-linejoin="round" stroke-linecap="round" />
<polyline points="174.8,1299.9 366.0,1299.9 366.5,1299.9 537.5,1043.7 596.7,1147.2 603.3,1139.4 610.1,1149.6 616.9,1145.8 623.8,1158.4 630.6,1154.9 637.4,1164.7 644.3,1158.8 651.1,1168.5 657.9,1162.7 664.8,1172.4 671.6,1166.1 678.4,1173.9 685.2,1166.1 692.1,1173.9 698.9,1166.1 705.7,1173.9 712.6,1166.1 719.4,1173.9 726.2,1166.1 733.1,1173.9 739.9,1166.1 746.7,1173.9 753.6,1166.1 760.4,1173.9 767.2,1166.1 774.1,1173.7 780.9,1165.5 787.7,1172.9 794.5,1164.6 801.4,1172.0 808.2,1163.8 815.0,1171.1 821.9,1162.9 828.7,1170.2 835.5,1162.0 842.4,1169.3 849.2,1161.1 856.0,1168.4 862.9,1160.2 869.7,1167.6 876.5,1160.2 883.3,1168.9 890.2,1162.0 897.0,1170.7 903.8,1163.9 910.7,1172.6 917.5,1165.7 924.3,1174.6 931.2,1167.9 938.0,1176.8 944.8,1170.2 951.7,1179.0 958.5,1172.3 965.3,1181.1 972.2,1174.7 979.0,1183.9 985.8,1177.7 992.6,1187.3 999.5,1181.4 1005.0,1186.8 1161.9,1299.9 1884.0,1299.9 1884.5,1299.9 2055.5,1043.7 2114.7,1147.2 2121.3,1139.4 2128.1,1149.6 2134.9,1145.8 2141.8,1158.4 2148.6,1154.9 2155.4,1164.7 2162.3,1158.8 2169.1,1168.5 2175.9,1162.7 2182.8,1172.4 2189.6,1166.1 2196.4,1173.9 2203.2,1166.1 2210.1,1173.9 2216.9,1166.1 2223.7,1173.9 2230.6,1166.1 2237.4,1173.9 2244.2,1166.1 2249.8,1172.5" fill="none" stroke="#50ac16" stroke-width="4.6" stroke-linejoin="round" stroke-linecap="round" />
<polyline points="174.8,1171.2 179.2,1166.1 186.1,1173.9 192.9,1166.1 199.7,1173.9 206.6,1166.1 213.4,1173.9 220.2,1166.1 227.1,1173.9 233.9,1166.1 240.7,1173.9 247.6,1166.1 254.4,1173.9 261.2,1166.1 268.1,1173.7 274.9,1165.5 281.7,1172.9 288.5,1164.6 295.4,1172.0 302.2,1163.8 309.0,1171.1 315.9,1162.9 322.7,1170.2 329.5,1162.0 336.4,1169.3 343.2,1161.1 350.0,1168.4 356.9,1160.2 363.7,1167.6 370.5,1160.2 377.3,1168.9 384.2,1162.0 391.0,1170.7 397.8,1163.9 404.7,1172.6 411.5,1165.7 418.3,1174.6 425.2,1167.9 432.0,1176.8 438.8,1170.2 445.7,1179.0 452.5,1172.3 459.3,1181.1 466.2,1174.7 473.0,1183.9 479.8,1177.7 486.6,1187.3 493.5,1181.4 499.0,1186.8 655.9,1299.9 1378.0,1299.9 1378.5,1299.9 1549.5,1043.7 1608.7,1147.2 1615.3,1139.4 1622.1,1149.6 1628.9,1145.8 1635.8,1158.4 1642.6,1154.9 1649.4,1164.7 1656.3,1158.8 1663.1,1168.5 1669.9,1162.7 1676.8,1172.4 1683.6,1166.1 1690.4,1173.9 1697.2,1166.1 1704.1,1173.9 1710.9,1166.1 1717.7,1173.9 1724.6,1166.1 1731.4,1173.9 1738.2,1166.1 1745.1,1173.9 1751.9,1166.1 1758.7,1173.9 1765.6,1166.1 1772.4,1173.9 1779.2,1166.1 1786.1,1173.7 1792.9,1165.5 1799.7,1172.9 1806.5,1164.6 1813.4,1172.0 1820.2,1163.8 1827.0,1171.1 1833.9,1162.9 1840.7,1170.2 1847.5,1162.0 1854.4,1169.3 1861.2,1161.1 1868.0,1168.4 1874.9,1160.2 1881.7,1167.6 1888.5,1160.2 1895.3,1168.9 1902.2,1162.0 1909.0,1170.7 1915.8,1163.9 1922.7,1172.6 1929.5,1165.7 1936.3,1174.6 1943.2,1167.9 1950.0,1176.8 1956.8,1170.2 1963.7,1179.0 1970.5,1172.3 1977.3,1181.1 1984.2,1174.7 1991.0,1183.9 1997.8,1177.7 2004.6,1187.3 2011.5,1181.4 2017.0,1186.8 2173.9,1299.9 2249.8,1299.9" fill="none" stroke="#0000ff" stroke-width="4.6" stroke-linejoin="round" stroke-linecap="round" />
<polyline points="168.7,1934.3 173.8,1901.2 180.7,1944.4 187.6,1896.2 194.5,1947.9 201.5,1899.3 208.6,1942.7 215.7,1899.0 222.8,1948.1 230.0,1896.4 237.3,1944.1 244.6,1901.1 251.9,1945.6 259.3,1895.6 266.8,1947.0 274.3,1900.3 281.7,1943.1 289.2,1897.8 296.6,1948.4 304.1,1897.5 311.6,1943.2 319.0,1900.5 326.5,1946.7 333.9,1895.6 341.4,1945.9 348.8,1901.0 356.3,1943.8 363.8,1896.7 377.8,1947.4 385.8,1920.1 393.9,1943.7 403.0,1902.1 408.5,1909.7 415.1,1936.1 421.6,1912.5 428.2,1914.4 434.7,1944.6 447.8,1891.8 454.4,1933.3 462.4,1900.3 469.0,1933.3 477.6,1888.9 484.1,1926.7 491.2,1881.4 504.8,1955.9 512.8,1914.4 518.9,1960.7 525.9,1914.4 532.5,1954.0 545.6,1900.3 554.7,1952.2 562.2,1898.4 568.3,1948.3 574.4,1896.9 580.5,1943.6 586.7,1900.9 592.9,1946.2 599.2,1895.5 605.5,1946.5 611.8,1900.7 618.2,1943.4 624.6,1897.2 631.1,1948.4 637.7,1898.1 644.2,1942.9 650.9,1900.1 657.5,1947.3 664.2,1895.7 671.0,1945.2 677.8,1901.2 684.7,1944.4 691.6,1896.2 698.5,1947.9 705.5,1899.3 712.6,1942.7 719.7,1899.0 726.8,1948.1 734.0,1896.4 741.3,1944.1 748.6,1901.1 755.9,1945.6 763.3,1895.6 770.8,1947.0 778.3,1900.3 785.7,1943.1 793.2,1897.8 800.6,1948.4 808.1,1897.5 815.6,1943.2 823.0,1900.5 830.5,1946.7 837.9,1895.6 845.4,1945.9 852.8,1901.0 860.3,1943.8 867.8,1896.7 881.8,1947.4 889.8,1920.1 897.9,1943.7 907.0,1902.1 912.5,1909.7 919.1,1936.1 925.6,1912.5 932.2,1914.4 938.7,1944.6 951.8,1891.8 958.4,1933.3 966.4,1900.3 973.0,1933.3 981.6,1888.9 988.1,1926.7 995.2,1881.4 1008.8,1955.9 1016.8,1914.4 1022.9,1960.7 1029.9,1914.4 1036.5,1954.0 1049.6,1900.3 1058.7,1952.2 1066.2,1898.4 1072.3,1948.3 1078.4,1896.9 1084.5,1943.6 1090.7,1900.9 1096.9,1946.2 1103.2,1895.5 1109.5,1946.5 1115.8,1900.7 1122.2,1943.4 1128.6,1897.2 1135.1,1948.4 1141.7,1898.1 1148.2,1942.9 1154.9,1900.1 1161.5,1947.3 1168.2,1895.7 1175.0,1945.2 1181.8,1901.2 1188.7,1944.4 1195.6,1896.2 1202.5,1947.9 1209.5,1899.3 1216.6,1942.7 1223.7,1899.0 1230.8,1948.1 1238.0,1896.4 1245.3,1944.1 1252.6,1901.1 1259.9,1945.6 1267.3,1895.6 1274.8,1947.0 1282.3,1900.3 1289.7,1943.1 1297.2,1897.8 1304.6,1948.4 1312.1,1897.5 1319.6,1943.2 1327.0,1900.5 1334.5,1946.7 1341.9,1895.6 1349.4,1945.9 1356.8,1901.0 1364.3,1943.8 1371.8,1896.7 1385.8,1947.4 1393.8,1920.1 1401.9,1943.7 1411.0,1902.1 1416.5,1909.7 1423.1,1936.1 1429.6,1912.5 1436.2,1914.4 1442.7,1944.6 1455.8,1891.8 1462.4,1933.3 1470.4,1900.3 1477.0,1933.3 1485.6,1888.9 1492.1,1926.7 1499.2,1881.4 1512.8,1955.9 1520.8,1914.4 1526.9,1960.7 1533.9,1914.4 1540.5,1954.0 1553.6,1900.3 1562.7,1952.2 1570.2,1898.4 1576.3,1948.3 1582.4,1896.9 1588.5,1943.6 1594.7,1900.9 1600.9,1946.2 1607.2,1895.5 1613.5,1946.5 1619.8,1900.7 1626.2,1943.4 1632.6,1897.2 1639.1,1948.4 1645.7,1898.1 1652.2,1942.9 1658.9,1900.1 1665.5,1947.3 1672.2,1895.7 1679.0,1945.2 1685.8,1901.2 1692.7,1944.4 1699.6,1896.2 1706.5,1947.9 1713.5,1899.3 1720.6,1942.7 1727.7,1899.0 1734.8,1948.1 1742.0,1896.4 1749.3,1944.1 1756.6,1901.1 1763.9,1945.6 1771.3,1895.6 1778.8,1947.0 1786.3,1900.3 1793.7,1943.1 1801.2,1897.8 1808.6,1948.4 1816.1,1897.5 1823.6,1943.2 1831.0,1900.5 1838.5,1946.7 1845.9,1895.6 1853.4,1945.9 1860.8,1901.0 1868.3,1943.8 1875.8,1896.7 1889.8,1947.4 1897.8,1920.1 1905.9,1943.7 1915.0,1902.1 1920.5,1909.7 1927.1,1936.1 1933.6,1912.5 1940.2,1914.4 1946.7,1944.6 1959.8,1891.8 1966.4,1933.3 1974.4,1900.3 1981.0,1933.3 1989.6,1888.9 1996.1,1926.7 2003.2,1881.4 2016.8,1955.9 2024.8,1914.4 2030.9,1960.7 2037.9,1914.4 2044.5,1954.0 2057.6,1900.3 2066.7,1952.2 2074.2,1898.4 2080.3,1948.3 2086.4,1896.9 2092.5,1943.6 2098.7,1900.9 2104.9,1946.2 2111.2,1895.5 2117.5,1946.5 2123.8,1900.7 2130.2,1943.4 2136.6,1897.2 2143.1,1948.4 2149.7,1898.1 2156.2,1942.9 2162.9,1900.1 2169.5,1947.3 2176.2,1895.7 2183.0,1945.2 2189.8,1901.2 2196.7,1944.4 2203.6,1896.2 2210.5,1947.9 2217.5,1899.3 2224.6,1942.7 2231.7,1899.0 2235.6,1925.9" fill="none" stroke="#0000ff" stroke-width="5.4" stroke-linejoin="round" stroke-linecap="round" />
<polyline points="176.7,2447.2 291.4,2447.2 293.0,2447.2 294.5,2447.2 296.0,2447.1 297.5,2447.1 299.0,2447.0 300.5,2447.0 302.0,2446.9 303.6,2446.8 305.1,2446.7 306.6,2446.5 308.1,2446.4 309.6,2446.3 311.1,2446.1 312.6,2445.9 314.2,2445.8 315.7,2445.6 317.2,2445.4 318.7,2445.2 320.2,2445.0 321.7,2444.8 323.2,2444.6 324.8,2444.3 326.3,2444.1 327.8,2443.8 329.3,2443.6 330.8,2443.3 332.3,2443.1 333.9,2442.7 335.4,2442.4 336.9,2441.9 338.4,2441.3 339.9,2440.7 341.4,2440.0 342.9,2439.3 344.5,2438.5 346.0,2437.6 347.5,2436.8 349.0,2435.8 350.5,2434.9 352.0,2433.9 353.5,2432.8 355.1,2431.8 356.6,2430.7 358.1,2429.6 359.6,2428.5 361.1,2427.5 362.6,2426.4 364.1,2425.3 365.7,2424.2 367.2,2423.0 368.7,2421.7 370.2,2420.4 371.7,2419.1 373.2,2417.7 374.8,2416.3 376.3,2414.8 377.8,2413.3 379.3,2411.7 380.8,2410.2 382.3,2408.6 383.8,2406.9 385.4,2405.3 386.9,2403.6 388.4,2402.0 389.9,2400.3 391.4,2398.6 392.9,2396.9 394.4,2395.1 396.0,2393.4 397.5,2391.7 399.0,2389.9 400.5,2388.0 402.0,2386.2 403.5,2384.2 405.0,2382.3 406.6,2380.4 408.1,2378.4 409.6,2376.4 411.1,2374.3 412.6,2372.3 414.1,2370.2 415.7,2368.2 417.2,2366.1 418.7,2364.0 420.2,2361.9 421.7,2359.8 423.2,2357.7 424.7,2355.6 426.3,2353.5 427.8,2351.5 429.3,2349.4 430.8,2347.3 432.3,2345.2 433.8,2343.1 435.3,2341.0 436.9,2338.9 438.4,2336.7 439.9,2334.6 441.4,2332.5 442.9,2330.3 444.4,2328.1 445.9,2325.9 447.5,2323.7 449.0,2321.5 450.5,2319.2 452.0,2316.9 453.5,2314.6 455.0,2312.3 456.6,2310.0 458.1,2307.6 459.6,2305.1 461.1,2302.7 462.6,2300.1 464.1,2297.6 465.6,2295.0 467.2,2292.3 468.7,2289.7 470.2,2287.0 471.7,2284.4 473.2,2281.8 474.7,2279.1 476.2,2276.6 477.8,2274.0 479.3,2271.5 480.8,2268.9 482.3,2266.2 483.8,2263.7 485.3,2261.1 486.9,2258.7 488.4,2256.5 489.9,2254.3 491.4,2251.9 492.9,2249.4 494.4,2247.2 495.9,2245.5 497.5,2244.4 499.0,2244.2 500.5,2244.8 502.0,2245.8 503.5,2247.0 505.0,2248.2 506.5,2248.9 508.1,2249.1 509.6,2248.9 511.1,2248.6 512.6,2248.0 514.1,2247.4 515.6,2246.8 517.1,2246.1 518.7,2245.5 520.2,2245.0 521.7,2244.5 523.2,2244.0 524.7,2243.4 526.2,2242.9 527.8,2242.4 529.3,2241.9 530.8,2241.4 532.3,2240.9 533.8,2240.5 535.3,2240.1 536.8,2239.8 538.4,2239.5 539.9,2239.2 541.4,2238.9 542.9,2238.6 544.4,2238.3 545.9,2238.0 547.4,2237.8 549.0,2237.5 550.5,2237.3 552.0,2237.1 553.5,2236.8 555.0,2236.6 556.5,2236.4 558.0,2236.2 559.6,2236.0 561.1,2235.8 562.6,2235.6 564.1,2235.4 565.6,2235.2 567.1,2235.0 568.7,2234.8 570.2,2234.7 571.7,2234.5 573.2,2234.3 574.7,2234.1 576.2,2233.9 577.7,2233.8 579.3,2233.6 580.8,2233.4 582.3,2233.3 583.8,2233.1 585.3,2233.0 586.8,2232.8 588.3,2232.7 589.9,2232.5 591.4,2232.4 592.9,2232.2 594.4,2232.1 595.9,2232.0 597.4,2231.9 598.9,2231.8 600.5,2231.6 602.0,2231.5 603.5,2231.4 605.0,2231.3 606.5,2231.2 608.0,2231.1 609.6,2231.0 611.1,2230.9 612.6,2230.7 614.1,2230.6 615.6,2230.5 617.1,2230.4 618.6,2230.3 620.2,2230.2 621.7,2230.1 623.2,2230.0 624.7,2229.9 626.2,2229.9 627.7,2229.8 629.2,2229.7 630.8,2229.6 632.3,2229.5 633.8,2229.4 635.3,2229.4 636.8,2229.3 638.3,2229.2 639.8,2229.2 641.4,2229.1 642.9,2229.0 644.4,2229.0 645.9,2228.9 647.4,2228.9 648.9,2228.8 650.5,2228.8 652.0,2228.8 653.5,2228.7 655.0,2228.7 656.5,2228.6 658.0,2228.6 659.5,2228.6 661.1,2228.5 662.6,2228.5 664.1,2228.5 665.6,2228.4 667.1,2228.4 668.6,2228.4 670.1,2228.3 671.7,2228.3 673.2,2228.3 674.7,2228.2 676.2,2228.2 677.7,2228.2 679.2,2228.2 680.7,2228.1 682.3,2228.1 683.8,2228.1 685.3,2228.1 686.8,2228.1 688.3,2228.0 689.8,2228.0 691.4,2228.0 692.9,2228.0 694.4,2228.0 695.9,2228.0 697.4,2228.0 698.9,2228.0 700.4,2228.0 828.2,2228.0 829.7,2228.5 831.2,2229.0 832.8,2229.6 834.3,2230.2 835.8,2230.9 837.3,2231.6 838.9,2232.3 840.4,2233.1 841.9,2233.8 843.4,2234.6 844.9,2235.5 846.5,2236.4 848.0,2237.4 849.5,2238.4 851.0,2239.4 852.6,2240.6 854.1,2241.7 855.6,2243.0 857.1,2244.3 858.7,2245.6 860.2,2247.1 861.7,2248.5 863.2,2250.0 864.8,2251.6 866.3,2253.2 867.8,2254.8 869.3,2256.4 870.9,2258.1 872.4,2259.7 873.9,2261.4 875.4,2263.1 876.9,2264.7 878.5,2266.4 880.0,2268.0 881.5,2269.6 883.0,2271.1 884.6,2272.6 886.1,2274.1 887.6,2275.6 889.1,2277.1 890.7,2278.5 892.2,2279.9 893.7,2281.4 895.2,2282.8 896.8,2284.2 898.3,2285.6 899.8,2287.1 901.3,2288.5 902.8,2289.9 904.4,2291.4 905.9,2292.9 907.4,2294.4 908.9,2295.9 910.5,2297.4 912.0,2299.0 913.5,2300.6 915.0,2302.3 916.6,2304.0 918.1,2305.7 919.6,2307.5 921.1,2309.4 922.7,2311.3 924.2,2313.2 925.7,2315.2 927.2,2317.2 928.7,2319.2 930.3,2321.2 931.8,2323.3 933.3,2325.3 934.8,2327.3 936.4,2329.3 937.9,2331.3 939.4,2333.2 940.9,2335.1 942.5,2336.9 944.0,2338.6 945.5,2340.2 947.0,2341.8 948.6,2343.5 950.1,2345.2 951.6,2346.9 953.1,2348.8 954.6,2350.9 956.2,2353.1 957.7,2355.7 959.2,2358.7 960.7,2362.1 962.3,2365.7 963.8,2369.5 965.3,2373.2 966.8,2376.8 968.4,2380.2 969.9,2383.4 971.4,2386.4 972.9,2389.3 974.5,2392.1 976.0,2394.9 977.5,2397.6 979.0,2400.3 980.5,2403.0 982.1,2405.7 983.6,2408.4 985.1,2411.2 986.6,2414.0 988.2,2416.9 989.7,2419.9 991.2,2422.8 992.7,2425.8 994.3,2428.8 995.8,2431.8 997.3,2434.8 998.8,2437.9 1000.4,2441.0 1001.9,2444.1 1003.4,2447.2 1003.9,2447.2 1806.3,2447.2 1807.8,2447.2 1809.3,2447.2 1810.8,2447.1 1812.3,2447.1 1813.8,2447.0 1815.3,2447.0 1816.9,2446.9 1818.4,2446.8 1819.9,2446.7 1821.4,2446.5 1822.9,2446.4 1824.4,2446.3 1826.0,2446.1 1827.5,2445.9 1829.0,2445.8 1830.5,2445.6 1832.0,2445.4 1833.5,2445.2 1835.0,2445.0 1836.6,2444.8 1838.1,2444.6 1839.6,2444.3 1841.1,2444.1 1842.6,2443.8 1844.1,2443.6 1845.6,2443.3 1847.2,2443.1 1848.7,2442.7 1850.2,2442.4 1851.7,2441.9 1853.2,2441.3 1854.7,2440.7 1856.2,2440.0 1857.8,2439.3 1859.3,2438.5 1860.8,2437.6 1862.3,2436.8 1863.8,2435.8 1865.3,2434.9 1866.9,2433.9 1868.4,2432.8 1869.9,2431.8 1871.4,2430.7 1872.9,2429.6 1874.4,2428.5 1875.9,2427.5 1877.5,2426.4 1879.0,2425.3 1880.5,2424.2 1882.0,2423.0 1883.5,2421.7 1885.0,2420.4 1886.5,2419.1 1888.1,2417.7 1889.6,2416.3 1891.1,2414.8 1892.6,2413.3 1894.1,2411.7 1895.6,2410.2 1897.1,2408.6 1898.7,2406.9 1900.2,2405.3 1901.7,2403.6 1903.2,2402.0 1904.7,2400.3 1906.2,2398.6 1907.8,2396.9 1909.3,2395.1 1910.8,2393.4 1912.3,2391.7 1913.8,2389.9 1915.3,2388.0 1916.8,2386.2 1918.4,2384.2 1919.9,2382.3 1921.4,2380.4 1922.9,2378.4 1924.4,2376.4 1925.9,2374.3 1927.4,2372.3 1929.0,2370.2 1930.5,2368.2 1932.0,2366.1 1933.5,2364.0 1935.0,2361.9 1936.5,2359.8 1938.0,2357.7 1939.6,2355.6 1941.1,2353.5 1942.6,2351.5 1944.1,2349.4 1945.6,2347.3 1947.1,2345.2 1948.7,2343.1 1950.2,2341.0 1951.7,2338.9 1953.2,2336.7 1954.7,2334.6 1956.2,2332.5 1957.7,2330.3 1959.3,2328.1 1960.8,2325.9 1962.3,2323.7 1963.8,2321.5 1965.3,2319.2 1966.8,2316.9 1968.3,2314.6 1969.9,2312.3 1971.4,2310.0 1972.9,2307.6 1974.4,2305.1 1975.9,2302.7 1977.4,2300.1 1978.9,2297.6 1980.5,2295.0 1982.0,2292.3 1983.5,2289.7 1985.0,2287.0 1986.5,2284.4 1988.0,2281.8 1989.6,2279.1 1991.1,2276.6 1992.6,2274.0 1994.1,2271.5 1995.6,2268.9 1997.1,2266.2 1998.6,2263.7 2000.2,2261.1 2001.7,2258.7 2003.2,2256.5 2004.7,2254.3 2006.2,2251.9 2007.7,2249.4 2009.2,2247.2 2010.8,2245.5 2012.3,2244.4 2013.8,2244.2 2015.3,2244.8 2016.8,2245.8 2018.3,2247.0 2019.8,2248.2 2021.4,2248.9 2022.9,2249.1 2024.4,2248.9 2025.9,2248.6 2027.4,2248.0 2028.9,2247.4 2030.5,2246.8 2032.0,2246.1 2033.5,2245.5 2035.0,2245.0 2036.5,2244.5 2038.0,2244.0 2039.5,2243.4 2041.1,2242.9 2042.6,2242.4 2044.1,2241.9 2045.6,2241.4 2047.1,2240.9 2048.6,2240.5 2050.1,2240.1 2051.7,2239.8 2053.2,2239.5 2054.7,2239.2 2056.2,2238.9 2057.7,2238.6 2059.2,2238.3 2060.7,2238.0 2062.3,2237.8 2063.8,2237.5 2065.3,2237.3 2066.8,2237.1 2068.3,2236.8 2069.8,2236.6 2071.4,2236.4 2072.9,2236.2 2074.4,2236.0 2075.9,2235.8 2077.4,2235.6 2078.9,2235.4 2080.4,2235.2 2082.0,2235.0 2083.5,2234.8 2085.0,2234.7 2086.5,2234.5 2088.0,2234.3 2089.5,2234.1 2091.0,2233.9 2092.6,2233.8 2094.1,2233.6 2095.6,2233.4 2097.1,2233.3 2098.6,2233.1 2100.1,2233.0 2101.6,2232.8 2103.2,2232.7 2104.7,2232.5 2106.2,2232.4 2107.7,2232.2 2109.2,2232.1 2110.7,2232.0 2112.3,2231.9 2113.8,2231.8 2115.3,2231.6 2116.8,2231.5 2118.3,2231.4 2119.8,2231.3 2121.3,2231.2 2122.9,2231.1 2124.4,2231.0 2125.9,2230.9 2127.4,2230.7 2128.9,2230.6 2130.4,2230.5 2131.9,2230.4 2133.5,2230.3 2135.0,2230.2 2136.5,2230.1 2138.0,2230.0 2139.5,2229.9 2141.0,2229.9 2142.5,2229.8 2144.1,2229.7 2145.6,2229.6 2147.1,2229.5 2148.6,2229.4 2150.1,2229.4 2151.6,2229.3 2153.2,2229.2 2154.7,2229.2 2156.2,2229.1 2157.7,2229.0 2159.2,2229.0 2160.7,2228.9 2162.2,2228.9 2163.8,2228.8 2165.3,2228.8 2166.8,2228.8 2168.3,2228.7 2169.8,2228.7 2171.3,2228.6 2172.8,2228.6 2174.4,2228.6 2175.9,2228.5 2177.4,2228.5 2178.9,2228.5 2180.4,2228.4 2181.9,2228.4 2183.4,2228.4 2185.0,2228.3 2186.5,2228.3 2188.0,2228.3 2189.5,2228.2 2191.0,2228.2 2192.5,2228.2 2194.1,2228.2 2195.6,2228.1 2197.1,2228.1 2198.6,2228.1 2200.1,2228.1 2201.6,2228.1 2203.1,2228.0 2204.7,2228.0 2206.2,2228.0 2207.7,2228.0 2209.2,2228.0 2210.7,2228.0 2212.2,2228.0 2213.7,2228.0 2215.3,2228.0 2246.8,2228.0" fill="none" stroke="#ffb000" stroke-width="2.8" stroke-linejoin="round" stroke-linecap="round" />
<polyline points="176.7,2447.2 796.4,2447.2 797.9,2447.2 799.4,2447.2 800.9,2447.1 802.4,2447.1 804.0,2447.0 805.5,2447.0 807.0,2446.9 808.5,2446.8 810.0,2446.7 811.5,2446.5 813.0,2446.4 814.6,2446.3 816.1,2446.1 817.6,2445.9 819.1,2445.8 820.6,2445.6 822.1,2445.4 823.6,2445.2 825.2,2445.0 826.7,2444.8 828.2,2444.6 829.7,2444.3 831.2,2444.1 832.7,2443.8 834.2,2443.6 835.8,2443.3 837.3,2443.1 838.8,2442.7 840.3,2442.4 841.8,2441.9 843.3,2441.3 844.9,2440.7 846.4,2440.0 847.9,2439.3 849.4,2438.5 850.9,2437.6 852.4,2436.8 853.9,2435.8 855.5,2434.9 857.0,2433.9 858.5,2432.8 860.0,2431.8 861.5,2430.7 863.0,2429.6 864.5,2428.5 866.1,2427.5 867.6,2426.4 869.1,2425.3 870.6,2424.2 872.1,2423.0 873.6,2421.7 875.1,2420.4 876.7,2419.1 878.2,2417.7 879.7,2416.3 881.2,2414.8 882.7,2413.3 884.2,2411.7 885.8,2410.2 887.3,2408.6 888.8,2406.9 890.3,2405.3 891.8,2403.6 893.3,2402.0 894.8,2400.3 896.4,2398.6 897.9,2396.9 899.4,2395.1 900.9,2393.4 902.4,2391.7 903.9,2389.9 905.4,2388.0 907.0,2386.2 908.5,2384.2 910.0,2382.3 911.5,2380.4 913.0,2378.4 914.5,2376.4 916.0,2374.3 917.6,2372.3 919.1,2370.2 920.6,2368.2 922.1,2366.1 923.6,2364.0 925.1,2361.9 926.7,2359.8 928.2,2357.7 929.7,2355.6 931.2,2353.5 932.7,2351.5 934.2,2349.4 935.7,2347.3 937.3,2345.2 938.8,2343.1 940.3,2341.0 941.8,2338.9 943.3,2336.7 944.8,2334.6 946.3,2332.5 947.9,2330.3 949.4,2328.1 950.9,2325.9 952.4,2323.7 953.9,2321.5 955.4,2319.2 956.9,2316.9 958.5,2314.6 960.0,2312.3 961.5,2310.0 963.0,2307.6 964.5,2305.1 966.0,2302.7 967.6,2300.1 969.1,2297.6 970.6,2295.0 972.1,2292.3 973.6,2289.7 975.1,2287.0 976.6,2284.4 978.2,2281.8 979.7,2279.1 981.2,2276.6 982.7,2274.0 984.2,2271.5 985.7,2268.9 987.2,2266.2 988.8,2263.7 990.3,2261.1 991.8,2258.7 993.3,2256.5 994.8,2254.3 996.3,2251.9 997.8,2249.4 999.4,2247.2 1000.9,2245.5 1002.4,2244.4 1003.9,2244.2 1005.4,2244.8 1006.9,2245.8 1008.5,2247.0 1010.0,2248.2 1011.5,2248.9 1013.0,2249.1 1014.5,2248.9 1016.0,2248.6 1017.5,2248.0 1019.1,2247.4 1020.6,2246.8 1022.1,2246.1 1023.6,2245.5 1025.1,2245.0 1026.6,2244.5 1028.1,2244.0 1029.7,2243.4 1031.2,2242.9 1032.7,2242.4 1034.2,2241.9 1035.7,2241.4 1037.2,2240.9 1038.7,2240.5 1040.3,2240.1 1041.8,2239.8 1043.3,2239.5 1044.8,2239.2 1046.3,2238.9 1047.8,2238.6 1049.4,2238.3 1050.9,2238.0 1052.4,2237.8 1053.9,2237.5 1055.4,2237.3 1056.9,2237.1 1058.4,2236.8 1060.0,2236.6 1061.5,2236.4 1063.0,2236.2 1064.5,2236.0 1066.0,2235.8 1067.5,2235.6 1069.0,2235.4 1070.6,2235.2 1072.1,2235.0 1073.6,2234.8 1075.1,2234.7 1076.6,2234.5 1078.1,2234.3 1079.6,2234.1 1081.2,2233.9 1082.7,2233.8 1084.2,2233.6 1085.7,2233.4 1087.2,2233.3 1088.7,2233.1 1090.3,2233.0 1091.8,2232.8 1093.3,2232.7 1094.8,2232.5 1096.3,2232.4 1097.8,2232.2 1099.3,2232.1 1100.9,2232.0 1102.4,2231.9 1103.9,2231.8 1105.4,2231.6 1106.9,2231.5 1108.4,2231.4 1109.9,2231.3 1111.5,2231.2 1113.0,2231.1 1114.5,2231.0 1116.0,2230.9 1117.5,2230.7 1119.0,2230.6 1120.5,2230.5 1122.1,2230.4 1123.6,2230.3 1125.1,2230.2 1126.6,2230.1 1128.1,2230.0 1129.6,2229.9 1131.2,2229.9 1132.7,2229.8 1134.2,2229.7 1135.7,2229.6 1137.2,2229.5 1138.7,2229.4 1140.2,2229.4 1141.8,2229.3 1143.3,2229.2 1144.8,2229.2 1146.3,2229.1 1147.8,2229.0 1149.3,2229.0 1150.8,2228.9 1152.4,2228.9 1153.9,2228.8 1155.4,2228.8 1156.9,2228.8 1158.4,2228.7 1159.9,2228.7 1161.4,2228.6 1163.0,2228.6 1164.5,2228.6 1166.0,2228.5 1167.5,2228.5 1169.0,2228.5 1170.5,2228.4 1172.1,2228.4 1173.6,2228.4 1175.1,2228.3 1176.6,2228.3 1178.1,2228.3 1179.6,2228.2 1181.1,2228.2 1182.7,2228.2 1184.2,2228.2 1185.7,2228.1 1187.2,2228.1 1188.7,2228.1 1190.2,2228.1 1191.7,2228.1 1193.3,2228.0 1194.8,2228.0 1196.3,2228.0 1197.8,2228.0 1199.3,2228.0 1200.8,2228.0 1202.4,2228.0 1203.9,2228.0 1205.4,2228.0 1333.1,2228.0 1334.7,2228.5 1336.2,2229.0 1337.7,2229.6 1339.2,2230.2 1340.7,2230.9 1342.3,2231.6 1343.8,2232.3 1345.3,2233.1 1346.8,2233.8 1348.4,2234.6 1349.9,2235.5 1351.4,2236.4 1352.9,2237.4 1354.5,2238.4 1356.0,2239.4 1357.5,2240.6 1359.0,2241.7 1360.6,2243.0 1362.1,2244.3 1363.6,2245.6 1365.1,2247.1 1366.6,2248.5 1368.2,2250.0 1369.7,2251.6 1371.2,2253.2 1372.7,2254.8 1374.3,2256.4 1375.8,2258.1 1377.3,2259.7 1378.8,2261.4 1380.4,2263.1 1381.9,2264.7 1383.4,2266.4 1384.9,2268.0 1386.5,2269.6 1388.0,2271.1 1389.5,2272.6 1391.0,2274.1 1392.6,2275.6 1394.1,2277.1 1395.6,2278.5 1397.1,2279.9 1398.6,2281.4 1400.2,2282.8 1401.7,2284.2 1403.2,2285.6 1404.7,2287.1 1406.3,2288.5 1407.8,2289.9 1409.3,2291.4 1410.8,2292.9 1412.4,2294.4 1413.9,2295.9 1415.4,2297.4 1416.9,2299.0 1418.5,2300.6 1420.0,2302.3 1421.5,2304.0 1423.0,2305.7 1424.5,2307.5 1426.1,2309.4 1427.6,2311.3 1429.1,2313.2 1430.6,2315.2 1432.2,2317.2 1433.7,2319.2 1435.2,2321.2 1436.7,2323.3 1438.3,2325.3 1439.8,2327.3 1441.3,2329.3 1442.8,2331.3 1444.4,2333.2 1445.9,2335.1 1447.4,2336.9 1448.9,2338.6 1450.4,2340.2 1452.0,2341.8 1453.5,2343.5 1455.0,2345.2 1456.5,2346.9 1458.1,2348.8 1459.6,2350.9 1461.1,2353.1 1462.6,2355.7 1464.2,2358.7 1465.7,2362.1 1467.2,2365.7 1468.7,2369.5 1470.3,2373.2 1471.8,2376.8 1473.3,2380.2 1474.8,2383.4 1476.3,2386.4 1477.9,2389.3 1479.4,2392.1 1480.9,2394.9 1482.4,2397.6 1484.0,2400.3 1485.5,2403.0 1487.0,2405.7 1488.5,2408.4 1490.1,2411.2 1491.6,2414.0 1493.1,2416.9 1494.6,2419.9 1496.2,2422.8 1497.7,2425.8 1499.2,2428.8 1500.7,2431.8 1502.2,2434.8 1503.8,2437.9 1505.3,2441.0 1506.8,2444.1 1508.3,2447.2 1508.8,2447.2 2246.8,2447.2" fill="none" stroke="#0000ff" stroke-width="4.6" stroke-linejoin="round" stroke-linecap="round" />
<polyline points="176.7,2228.1 177.3,2228.1 178.8,2228.1 180.4,2228.1 181.9,2228.1 183.4,2228.0 184.9,2228.0 186.4,2228.0 187.9,2228.0 189.4,2228.0 191.0,2228.0 192.5,2228.0 194.0,2228.0 195.5,2228.0 323.2,2228.0 324.8,2228.5 326.3,2229.0 327.8,2229.6 329.3,2230.2 330.9,2230.9 332.4,2231.6 333.9,2232.3 335.4,2233.1 337.0,2233.8 338.5,2234.6 340.0,2235.5 341.5,2236.4 343.1,2237.4 344.6,2238.4 346.1,2239.4 347.6,2240.6 349.2,2241.7 350.7,2243.0 352.2,2244.3 353.7,2245.6 355.2,2247.1 356.8,2248.5 358.3,2250.0 359.8,2251.6 361.3,2253.2 362.9,2254.8 364.4,2256.4 365.9,2258.1 367.4,2259.7 369.0,2261.4 370.5,2263.1 372.0,2264.7 373.5,2266.4 375.1,2268.0 376.6,2269.6 378.1,2271.1 379.6,2272.6 381.1,2274.1 382.7,2275.6 384.2,2277.1 385.7,2278.5 387.2,2279.9 388.8,2281.4 390.3,2282.8 391.8,2284.2 393.3,2285.6 394.9,2287.1 396.4,2288.5 397.9,2289.9 399.4,2291.4 401.0,2292.9 402.5,2294.4 404.0,2295.9 405.5,2297.4 407.0,2299.0 408.6,2300.6 410.1,2302.3 411.6,2304.0 413.1,2305.7 414.7,2307.5 416.2,2309.4 417.7,2311.3 419.2,2313.2 420.8,2315.2 422.3,2317.2 423.8,2319.2 425.3,2321.2 426.9,2323.3 428.4,2325.3 429.9,2327.3 431.4,2329.3 432.9,2331.3 434.5,2333.2 436.0,2335.1 437.5,2336.9 439.0,2338.6 440.6,2340.2 442.1,2341.8 443.6,2343.5 445.1,2345.2 446.7,2346.9 448.2,2348.8 449.7,2350.9 451.2,2353.1 452.8,2355.7 454.3,2358.7 455.8,2362.1 457.3,2365.7 458.9,2369.5 460.4,2373.2 461.9,2376.8 463.4,2380.2 464.9,2383.4 466.5,2386.4 468.0,2389.3 469.5,2392.1 471.0,2394.9 472.6,2397.6 474.1,2400.3 475.6,2403.0 477.1,2405.7 478.7,2408.4 480.2,2411.2 481.7,2414.0 483.2,2416.9 484.8,2419.9 486.3,2422.8 487.8,2425.8 489.3,2428.8 490.8,2431.8 492.4,2434.8 493.9,2437.9 495.4,2441.0 496.9,2444.1 498.5,2447.2 499.0,2447.2 1301.3,2447.2 1302.8,2447.2 1304.3,2447.2 1305.9,2447.1 1307.4,2447.1 1308.9,2447.0 1310.4,2447.0 1311.9,2446.9 1313.4,2446.8 1315.0,2446.7 1316.5,2446.5 1318.0,2446.4 1319.5,2446.3 1321.0,2446.1 1322.5,2445.9 1324.0,2445.8 1325.6,2445.6 1327.1,2445.4 1328.6,2445.2 1330.1,2445.0 1331.6,2444.8 1333.1,2444.6 1334.6,2444.3 1336.2,2444.1 1337.7,2443.8 1339.2,2443.6 1340.7,2443.3 1342.2,2443.1 1343.7,2442.7 1345.2,2442.4 1346.8,2441.9 1348.3,2441.3 1349.8,2440.7 1351.3,2440.0 1352.8,2439.3 1354.3,2438.5 1355.9,2437.6 1357.4,2436.8 1358.9,2435.8 1360.4,2434.9 1361.9,2433.9 1363.4,2432.8 1364.9,2431.8 1366.5,2430.7 1368.0,2429.6 1369.5,2428.5 1371.0,2427.5 1372.5,2426.4 1374.0,2425.3 1375.5,2424.2 1377.1,2423.0 1378.6,2421.7 1380.1,2420.4 1381.6,2419.1 1383.1,2417.7 1384.6,2416.3 1386.1,2414.8 1387.7,2413.3 1389.2,2411.7 1390.7,2410.2 1392.2,2408.6 1393.7,2406.9 1395.2,2405.3 1396.8,2403.6 1398.3,2402.0 1399.8,2400.3 1401.3,2398.6 1402.8,2396.9 1404.3,2395.1 1405.8,2393.4 1407.4,2391.7 1408.9,2389.9 1410.4,2388.0 1411.9,2386.2 1413.4,2384.2 1414.9,2382.3 1416.4,2380.4 1418.0,2378.4 1419.5,2376.4 1421.0,2374.3 1422.5,2372.3 1424.0,2370.2 1425.5,2368.2 1427.0,2366.1 1428.6,2364.0 1430.1,2361.9 1431.6,2359.8 1433.1,2357.7 1434.6,2355.6 1436.1,2353.5 1437.7,2351.5 1439.2,2349.4 1440.7,2347.3 1442.2,2345.2 1443.7,2343.1 1445.2,2341.0 1446.7,2338.9 1448.3,2336.7 1449.8,2334.6 1451.3,2332.5 1452.8,2330.3 1454.3,2328.1 1455.8,2325.9 1457.3,2323.7 1458.9,2321.5 1460.4,2319.2 1461.9,2316.9 1463.4,2314.6 1464.9,2312.3 1466.4,2310.0 1467.9,2307.6 1469.5,2305.1 1471.0,2302.7 1472.5,2300.1 1474.0,2297.6 1475.5,2295.0 1477.0,2292.3 1478.6,2289.7 1480.1,2287.0 1481.6,2284.4 1483.1,2281.8 1484.6,2279.1 1486.1,2276.6 1487.6,2274.0 1489.2,2271.5 1490.7,2268.9 1492.2,2266.2 1493.7,2263.7 1495.2,2261.1 1496.7,2258.7 1498.2,2256.5 1499.8,2254.3 1501.3,2251.9 1502.8,2249.4 1504.3,2247.2 1505.8,2245.5 1507.3,2244.4 1508.8,2244.2 1510.4,2244.8 1511.9,2245.8 1513.4,2247.0 1514.9,2248.2 1516.4,2248.9 1517.9,2249.1 1519.5,2248.9 1521.0,2248.6 1522.5,2248.0 1524.0,2247.4 1525.5,2246.8 1527.0,2246.1 1528.5,2245.5 1530.1,2245.0 1531.6,2244.5 1533.1,2244.0 1534.6,2243.4 1536.1,2242.9 1537.6,2242.4 1539.1,2241.9 1540.7,2241.4 1542.2,2240.9 1543.7,2240.5 1545.2,2240.1 1546.7,2239.8 1548.2,2239.5 1549.7,2239.2 1551.3,2238.9 1552.8,2238.6 1554.3,2238.3 1555.8,2238.0 1557.3,2237.8 1558.8,2237.5 1560.4,2237.3 1561.9,2237.1 1563.4,2236.8 1564.9,2236.6 1566.4,2236.4 1567.9,2236.2 1569.4,2236.0 1571.0,2235.8 1572.5,2235.6 1574.0,2235.4 1575.5,2235.2 1577.0,2235.0 1578.5,2234.8 1580.0,2234.7 1581.6,2234.5 1583.1,2234.3 1584.6,2234.1 1586.1,2233.9 1587.6,2233.8 1589.1,2233.6 1590.6,2233.4 1592.2,2233.3 1593.7,2233.1 1595.2,2233.0 1596.7,2232.8 1598.2,2232.7 1599.7,2232.5 1601.3,2232.4 1602.8,2232.2 1604.3,2232.1 1605.8,2232.0 1607.3,2231.9 1608.8,2231.8 1610.3,2231.6 1611.9,2231.5 1613.4,2231.4 1614.9,2231.3 1616.4,2231.2 1617.9,2231.1 1619.4,2231.0 1620.9,2230.9 1622.5,2230.7 1624.0,2230.6 1625.5,2230.5 1627.0,2230.4 1628.5,2230.3 1630.0,2230.2 1631.5,2230.1 1633.1,2230.0 1634.6,2229.9 1636.1,2229.9 1637.6,2229.8 1639.1,2229.7 1640.6,2229.6 1642.2,2229.5 1643.7,2229.4 1645.2,2229.4 1646.7,2229.3 1648.2,2229.2 1649.7,2229.2 1651.2,2229.1 1652.8,2229.0 1654.3,2229.0 1655.8,2228.9 1657.3,2228.9 1658.8,2228.8 1660.3,2228.8 1661.8,2228.8 1663.4,2228.7 1664.9,2228.7 1666.4,2228.6 1667.9,2228.6 1669.4,2228.6 1670.9,2228.5 1672.4,2228.5 1674.0,2228.5 1675.5,2228.4 1677.0,2228.4 1678.5,2228.4 1680.0,2228.3 1681.5,2228.3 1683.1,2228.3 1684.6,2228.2 1686.1,2228.2 1687.6,2228.2 1689.1,2228.2 1690.6,2228.1 1692.1,2228.1 1693.7,2228.1 1695.2,2228.1 1696.7,2228.1 1698.2,2228.0 1699.7,2228.0 1701.2,2228.0 1702.7,2228.0 1704.3,2228.0 1705.8,2228.0 1707.3,2228.0 1708.8,2228.0 1710.3,2228.0 1838.1,2228.0 1839.6,2228.5 1841.1,2229.0 1842.6,2229.6 1844.2,2230.2 1845.7,2230.9 1847.2,2231.6 1848.7,2232.3 1850.3,2233.1 1851.8,2233.8 1853.3,2234.6 1854.8,2235.5 1856.4,2236.4 1857.9,2237.4 1859.4,2238.4 1860.9,2239.4 1862.4,2240.6 1864.0,2241.7 1865.5,2243.0 1867.0,2244.3 1868.5,2245.6 1870.1,2247.1 1871.6,2248.5 1873.1,2250.0 1874.6,2251.6 1876.2,2253.2 1877.7,2254.8 1879.2,2256.4 1880.7,2258.1 1882.3,2259.7 1883.8,2261.4 1885.3,2263.1 1886.8,2264.7 1888.3,2266.4 1889.9,2268.0 1891.4,2269.6 1892.9,2271.1 1894.4,2272.6 1896.0,2274.1 1897.5,2275.6 1899.0,2277.1 1900.5,2278.5 1902.1,2279.9 1903.6,2281.4 1905.1,2282.8 1906.6,2284.2 1908.2,2285.6 1909.7,2287.1 1911.2,2288.5 1912.7,2289.9 1914.2,2291.4 1915.8,2292.9 1917.3,2294.4 1918.8,2295.9 1920.3,2297.4 1921.9,2299.0 1923.4,2300.6 1924.9,2302.3 1926.4,2304.0 1928.0,2305.7 1929.5,2307.5 1931.0,2309.4 1932.5,2311.3 1934.1,2313.2 1935.6,2315.2 1937.1,2317.2 1938.6,2319.2 1940.2,2321.2 1941.7,2323.3 1943.2,2325.3 1944.7,2327.3 1946.2,2329.3 1947.8,2331.3 1949.3,2333.2 1950.8,2335.1 1952.3,2336.9 1953.9,2338.6 1955.4,2340.2 1956.9,2341.8 1958.4,2343.5 1960.0,2345.2 1961.5,2346.9 1963.0,2348.8 1964.5,2350.9 1966.1,2353.1 1967.6,2355.7 1969.1,2358.7 1970.6,2362.1 1972.1,2365.7 1973.7,2369.5 1975.2,2373.2 1976.7,2376.8 1978.2,2380.2 1979.8,2383.4 1981.3,2386.4 1982.8,2389.3 1984.3,2392.1 1985.9,2394.9 1987.4,2397.6 1988.9,2400.3 1990.4,2403.0 1992.0,2405.7 1993.5,2408.4 1995.0,2411.2 1996.5,2414.0 1998.0,2416.9 1999.6,2419.9 2001.1,2422.8 2002.6,2425.8 2004.1,2428.8 2005.7,2431.8 2007.2,2434.8 2008.7,2437.9 2010.2,2441.0 2011.8,2444.1 2013.3,2447.2 2013.8,2447.2 2246.8,2447.2" fill="none" stroke="#ff5000" stroke-width="2.8" stroke-linejoin="round" stroke-linecap="round" />
<polyline points="176.7,2447.2 796.4,2447.2 797.9,2447.2 799.4,2447.2 800.9,2447.1 802.5,2447.1 804.0,2447.0 805.5,2447.0 807.0,2446.9 808.6,2446.8 810.1,2446.7 811.6,2446.5 813.1,2446.4 814.6,2446.3 816.2,2446.1 817.7,2445.9 819.2,2445.8 820.7,2445.6 822.3,2445.4 823.8,2445.2 825.3,2445.0 826.8,2444.8 828.3,2444.5 829.9,2444.3 831.4,2444.1 832.9,2443.8 834.4,2443.5 836.0,2443.3 837.5,2443.0 839.0,2442.7 840.5,2442.3 842.0,2441.8 843.6,2441.2 845.1,2440.6 846.6,2439.9 848.1,2439.2 849.7,2438.4 851.2,2437.5 852.7,2436.6 854.2,2435.6 855.7,2434.7 857.3,2433.7 858.8,2432.6 860.3,2431.6 861.8,2430.5 863.4,2429.4 864.9,2428.3 866.4,2427.2 867.9,2426.1 869.4,2425.0 871.0,2423.9 872.5,2422.7 874.0,2421.4 875.5,2420.1 877.1,2418.7 878.6,2417.3 880.1,2415.9 881.6,2414.4 883.1,2412.9 884.7,2411.3 886.2,2409.7 887.7,2408.1 889.2,2406.5 891.3,2395.2 896.4,2405.1 898.4,2396.3 899.9,2394.6 901.4,2392.8 902.9,2391.0 904.5,2389.2 906.0,2387.4 907.5,2385.5 909.0,2383.5 910.5,2381.6 912.1,2379.6 913.6,2377.6 915.1,2375.6 916.6,2373.5 918.2,2371.5 919.7,2369.4 921.2,2367.3 922.7,2365.2 925.1,2352.8 930.2,2361.9 931.9,2352.6 933.4,2350.5 934.9,2348.4 936.4,2346.3 937.9,2344.2 939.5,2342.1 941.0,2340.0 942.5,2337.9 944.0,2335.7 945.6,2333.6 947.1,2331.4 948.6,2329.2 950.1,2327.0 951.6,2324.8 953.2,2322.6 954.7,2320.3 956.2,2318.0 958.5,2305.2 963.5,2313.7 965.3,2303.8 966.9,2301.3 968.4,2298.7 969.9,2296.1 971.4,2293.5 973.0,2290.8 974.5,2288.2 976.0,2285.5 977.1,2273.8 982.2,2281.9 983.6,2272.5 985.1,2269.9 986.7,2267.3 988.2,2264.6 989.7,2262.1 991.2,2259.6 993.3,2247.9 998.4,2257.3 1000.4,2247.4 1001.9,2245.7 1003.4,2244.1 1004.9,2234.6 1017.5,2250.4 1023.6,2231.7 1029.7,2221.4 1037.3,2241.6 1045.0,2222.1 1052.7,2239.7 1060.4,2220.1 1068.0,2240.3 1075.7,2222.5 1083.4,2241.2 1091.1,2220.7 1098.7,2239.2 1106.4,2221.2 1114.1,2241.5 1121.8,2222.3 1129.4,2239.9 1137.1,2220.1 1144.8,2240.1 1152.5,2222.4 1160.1,2241.4 1167.8,2220.9 1175.5,2239.2 1183.2,2221.0 1190.8,2241.4 1198.5,2222.4 1206.2,2240.1 1213.9,2220.1 1221.5,2240.0 1229.2,2222.3 1236.9,2241.5 1244.6,2221.1 1252.2,2239.2 1259.9,2220.8 1267.6,2241.3 1275.3,2222.5 1282.9,2240.3 1290.6,2220.1 1298.3,2239.8 1306.0,2222.2 1313.6,2241.6 1321.3,2221.3 1329.0,2239.2 1333.1,2228.0 1334.7,2228.5 1336.2,2229.0 1337.7,2229.6 1339.2,2230.2 1340.7,2230.9 1342.3,2231.6 1343.8,2232.3 1345.8,2224.2 1351.8,2242.8 1352.9,2237.4 1354.5,2238.4 1356.0,2239.4 1357.5,2240.6 1359.0,2241.7 1361.4,2235.3 1367.5,2256.3 1369.7,2251.6 1371.2,2253.2 1372.7,2254.8 1374.3,2256.4 1375.8,2258.1 1377.1,2251.0 1383.1,2272.0 1384.9,2268.0 1386.5,2269.6 1388.0,2271.1 1389.5,2272.6 1391.0,2274.1 1392.6,2275.6 1394.1,2277.1 1395.7,2269.6 1401.8,2290.5 1403.2,2285.6 1404.7,2287.1 1406.3,2288.5 1407.8,2289.9 1409.3,2291.4 1410.8,2292.9 1412.4,2294.4 1414.4,2287.9 1420.5,2308.7 1421.5,2304.0 1423.0,2305.7 1424.5,2307.5 1426.1,2309.4 1427.6,2311.3 1429.1,2313.2 1430.6,2315.2 1433.1,2309.7 1439.2,2332.3 1441.3,2329.3 1442.8,2331.3 1444.4,2333.2 1445.9,2335.1 1447.4,2336.9 1448.9,2338.6 1450.4,2340.2 1451.8,2333.0 1457.8,2355.1 1459.6,2350.9 1461.1,2353.1 1461.4,2353.5 1463.4,2357.7 1465.4,2361.7 1467.5,2365.5 1469.5,2369.1 1471.5,2372.4 1473.6,2375.5 1475.6,2378.4 1477.6,2381.0 1479.7,2383.5 1481.7,2386.1 1483.7,2388.8 1485.8,2391.7 1487.8,2394.7 1489.8,2397.7 1491.9,2400.7 1493.9,2403.6 1495.9,2406.4 1498.0,2409.0 1500.0,2411.3 1502.0,2413.5 1504.1,2415.6 1506.1,2417.6 1508.1,2419.5 1510.2,2421.4 1512.2,2423.2 1514.2,2425.0 1516.3,2426.9 1518.3,2428.7 1520.3,2430.5 1522.4,2432.3 1524.4,2434.0 1526.4,2435.6 1528.5,2437.0 1530.5,2438.4 1532.5,2439.6 1534.6,2440.8 1536.6,2442.0 1538.6,2443.0 1540.6,2444.0 1542.7,2444.9 1544.7,2445.6 1546.7,2446.3 1548.8,2446.9 1550.8,2447.5 1552.8,2448.0 1554.9,2448.6 1556.9,2449.2 1558.9,2449.7 1561.0,2450.1 1563.0,2450.6 1565.0,2451.0 1567.1,2451.3 1569.1,2451.6 1571.1,2451.9 1573.2,2452.0 1575.2,2452.1 1577.2,2452.2 1579.3,2452.2 1581.3,2452.2 1583.3,2452.1 1585.4,2452.1 1587.4,2452.1 1589.4,2452.0 1591.5,2451.9 1593.5,2451.8 1595.5,2451.7 1597.6,2451.6 1599.6,2451.5 1601.6,2451.3 1603.7,2451.1 1605.7,2450.8 1607.7,2450.6 1609.7,2450.3 1611.8,2450.0 1613.8,2449.6 1615.8,2449.2 1617.9,2448.8 1619.9,2448.3 1621.9,2447.8 1624.0,2447.2 1634.6,2447.2 1634.6,2447.2 2246.8,2447.2" fill="none" stroke="#8e248e" stroke-width="2.8" stroke-linejoin="round" stroke-linecap="round" />
<polyline points="176.7,2230.1 181.0,2241.4 188.6,2222.4 196.3,2240.1 204.0,2220.1 211.7,2240.0 219.3,2222.3 227.0,2241.5 234.7,2221.1 242.4,2239.2 250.0,2220.8 257.7,2241.3 265.4,2222.5 273.1,2240.3 280.7,2220.1 288.4,2239.8 296.1,2222.2 303.8,2241.6 311.4,2221.3 319.1,2239.2 323.2,2228.0 324.8,2228.5 326.3,2229.0 327.8,2229.6 329.3,2230.2 330.9,2230.9 332.4,2231.6 333.9,2232.3 335.9,2224.2 341.9,2242.8 343.1,2237.4 344.6,2238.4 346.1,2239.4 347.6,2240.6 349.2,2241.7 351.5,2235.3 357.6,2256.3 359.8,2251.6 361.3,2253.2 362.9,2254.8 364.4,2256.4 365.9,2258.1 367.2,2251.0 373.2,2272.0 375.1,2268.0 376.6,2269.6 378.1,2271.1 379.6,2272.6 381.1,2274.1 382.7,2275.6 384.2,2277.1 385.9,2269.6 391.9,2290.5 393.3,2285.6 394.9,2287.1 396.4,2288.5 397.9,2289.9 399.4,2291.4 401.0,2292.9 402.5,2294.4 404.5,2287.9 410.6,2308.7 411.6,2304.0 413.1,2305.7 414.7,2307.5 416.2,2309.4 417.7,2311.3 419.2,2313.2 420.8,2315.2 423.2,2309.7 429.3,2332.3 431.4,2329.3 432.9,2331.3 434.5,2333.2 436.0,2335.1 437.5,2336.9 439.0,2338.6 440.6,2340.2 441.9,2333.0 448.0,2355.1 449.7,2350.9 451.2,2353.1 451.5,2353.5 453.5,2357.7 455.6,2361.7 457.6,2365.5 459.6,2369.1 461.7,2372.4 463.7,2375.5 465.7,2378.4 467.8,2381.0 469.8,2383.5 471.8,2386.1 473.9,2388.8 475.9,2391.7 477.9,2394.7 480.0,2397.7 482.0,2400.7 484.0,2403.6 486.1,2406.4 488.1,2409.0 490.1,2411.3 492.2,2413.5 494.2,2415.6 496.2,2417.6 498.2,2419.5 500.3,2421.4 502.3,2423.2 504.3,2425.0 506.4,2426.9 508.4,2428.7 510.4,2430.5 512.5,2432.3 514.5,2434.0 516.5,2435.6 518.6,2437.0 520.6,2438.4 522.6,2439.6 524.7,2440.8 526.7,2442.0 528.7,2443.0 530.8,2444.0 532.8,2444.9 534.8,2445.6 536.9,2446.3 538.9,2446.9 540.9,2447.5 543.0,2448.0 545.0,2448.6 547.0,2449.2 549.1,2449.7 551.1,2450.1 553.1,2450.6 555.2,2451.0 557.2,2451.3 559.2,2451.6 561.3,2451.9 563.3,2452.0 565.3,2452.1 567.4,2452.2 569.4,2452.2 571.4,2452.2 573.4,2452.1 575.5,2452.1 577.5,2452.1 579.5,2452.0 581.6,2451.9 583.6,2451.8 585.6,2451.7 587.7,2451.6 589.7,2451.5 591.7,2451.3 593.8,2451.1 595.8,2450.8 597.8,2450.6 599.9,2450.3 601.9,2450.0 603.9,2449.6 606.0,2449.2 608.0,2448.8 610.0,2448.3 612.1,2447.8 614.1,2447.2 624.7,2447.2 624.7,2447.2 1301.3,2447.2 1302.8,2447.2 1304.4,2447.2 1305.9,2447.1 1307.4,2447.1 1308.9,2447.0 1310.5,2447.0 1312.0,2446.9 1313.5,2446.8 1315.0,2446.7 1316.5,2446.5 1318.1,2446.4 1319.6,2446.3 1321.1,2446.1 1322.6,2445.9 1324.2,2445.8 1325.7,2445.6 1327.2,2445.4 1328.7,2445.2 1330.2,2445.0 1331.8,2444.8 1333.3,2444.5 1334.8,2444.3 1336.3,2444.1 1337.9,2443.8 1339.4,2443.5 1340.9,2443.3 1342.4,2443.0 1343.9,2442.7 1345.5,2442.3 1347.0,2441.8 1348.5,2441.2 1350.0,2440.6 1351.6,2439.9 1353.1,2439.2 1354.6,2438.4 1356.1,2437.5 1357.6,2436.6 1359.2,2435.6 1360.7,2434.7 1362.2,2433.7 1363.7,2432.6 1365.3,2431.6 1366.8,2430.5 1368.3,2429.4 1369.8,2428.3 1371.3,2427.2 1372.9,2426.1 1374.4,2425.0 1375.9,2423.9 1377.4,2422.7 1379.0,2421.4 1380.5,2420.1 1382.0,2418.7 1383.5,2417.3 1385.0,2415.9 1386.6,2414.4 1388.1,2412.9 1389.6,2411.3 1391.1,2409.7 1392.7,2408.1 1394.2,2406.5 1396.2,2395.2 1401.3,2405.1 1403.3,2396.3 1404.8,2394.6 1406.4,2392.8 1407.9,2391.0 1409.4,2389.2 1410.9,2387.4 1412.4,2385.5 1414.0,2383.5 1415.5,2381.6 1417.0,2379.6 1418.5,2377.6 1420.1,2375.6 1421.6,2373.5 1423.1,2371.5 1424.6,2369.4 1426.1,2367.3 1427.7,2365.2 1430.1,2352.8 1435.1,2361.9 1436.8,2352.6 1438.3,2350.5 1439.8,2348.4 1441.4,2346.3 1442.9,2344.2 1444.4,2342.1 1445.9,2340.0 1447.5,2337.9 1449.0,2335.7 1450.5,2333.6 1452.0,2331.4 1453.5,2329.2 1455.1,2327.0 1456.6,2324.8 1458.1,2322.6 1459.6,2320.3 1461.2,2318.0 1463.4,2305.2 1468.5,2313.7 1470.3,2303.8 1471.8,2301.3 1473.3,2298.7 1474.9,2296.1 1476.4,2293.5 1477.9,2290.8 1479.4,2288.2 1480.9,2285.5 1482.1,2273.8 1487.1,2281.9 1488.6,2272.5 1490.1,2269.9 1491.6,2267.3 1493.1,2264.6 1494.6,2262.1 1496.2,2259.6 1498.2,2247.9 1503.3,2257.3 1505.3,2247.4 1506.8,2245.7 1508.3,2244.1 1509.9,2234.6 1522.5,2250.4 1528.5,2231.7 1534.6,2221.4 1542.3,2241.6 1550.0,2222.1 1557.6,2239.7 1565.3,2220.1 1573.0,2240.3 1580.7,2222.5 1588.3,2241.2 1596.0,2220.7 1603.7,2239.2 1611.4,2221.2 1619.0,2241.5 1626.7,2222.3 1634.4,2239.9 1642.1,2220.1 1649.7,2240.1 1657.4,2222.4 1665.1,2241.4 1672.8,2220.9 1680.4,2239.2 1688.1,2221.0 1695.8,2241.4 1703.5,2222.4 1711.1,2240.1 1718.8,2220.1 1726.5,2240.0 1734.2,2222.3 1741.8,2241.5 1749.5,2221.1 1757.2,2239.2 1764.9,2220.8 1772.5,2241.3 1780.2,2222.5 1787.9,2240.3 1795.6,2220.1 1803.2,2239.8 1810.9,2222.2 1818.6,2241.6 1826.3,2221.3 1833.9,2239.2 1838.1,2228.0 1839.6,2228.5 1841.1,2229.0 1842.6,2229.6 1844.2,2230.2 1845.7,2230.9 1847.2,2231.6 1848.7,2232.3 1850.7,2224.2 1856.8,2242.8 1857.9,2237.4 1859.4,2238.4 1860.9,2239.4 1862.4,2240.6 1864.0,2241.7 1866.3,2235.3 1872.4,2256.3 1874.6,2251.6 1876.2,2253.2 1877.7,2254.8 1879.2,2256.4 1880.7,2258.1 1882.0,2251.0 1888.1,2272.0 1889.9,2268.0 1891.4,2269.6 1892.9,2271.1 1894.4,2272.6 1896.0,2274.1 1897.5,2275.6 1899.0,2277.1 1900.7,2269.6 1906.7,2290.5 1908.2,2285.6 1909.7,2287.1 1911.2,2288.5 1912.7,2289.9 1914.2,2291.4 1915.8,2292.9 1917.3,2294.4 1919.4,2287.9 1925.4,2308.7 1926.4,2304.0 1928.0,2305.7 1929.5,2307.5 1931.0,2309.4 1932.5,2311.3 1934.1,2313.2 1935.6,2315.2 1938.0,2309.7 1944.1,2332.3 1946.2,2329.3 1947.8,2331.3 1949.3,2333.2 1950.8,2335.1 1952.3,2336.9 1953.9,2338.6 1955.4,2340.2 1956.7,2333.0 1962.8,2355.1 1964.5,2350.9 1966.1,2353.1 1966.3,2353.5 1968.4,2357.7 1970.4,2361.7 1972.4,2365.5 1974.5,2369.1 1976.5,2372.4 1978.5,2375.5 1980.6,2378.4 1982.6,2381.0 1984.6,2383.5 1986.6,2386.1 1988.7,2388.8 1990.7,2391.7 1992.7,2394.7 1994.8,2397.7 1996.8,2400.7 1998.8,2403.6 2000.9,2406.4 2002.9,2409.0 2004.9,2411.3 2007.0,2413.5 2009.0,2415.6 2011.0,2417.6 2013.1,2419.5 2015.1,2421.4 2017.1,2423.2 2019.2,2425.0 2021.2,2426.9 2023.2,2428.7 2025.3,2430.5 2027.3,2432.3 2029.3,2434.0 2031.4,2435.6 2033.4,2437.0 2035.4,2438.4 2037.5,2439.6 2039.5,2440.8 2041.5,2442.0 2043.6,2443.0 2045.6,2444.0 2047.6,2444.9 2049.7,2445.6 2051.7,2446.3 2053.7,2446.9 2055.7,2447.5 2057.8,2448.0 2059.8,2448.6 2061.8,2449.2 2063.9,2449.7 2065.9,2450.1 2067.9,2450.6 2070.0,2451.0 2072.0,2451.3 2074.0,2451.6 2076.1,2451.9 2078.1,2452.0 2080.1,2452.1 2082.2,2452.2 2084.2,2452.2 2086.2,2452.2 2088.3,2452.1 2090.3,2452.1 2092.3,2452.1 2094.4,2452.0 2096.4,2451.9 2098.4,2451.8 2100.5,2451.7 2102.5,2451.6 2104.5,2451.5 2106.6,2451.3 2108.6,2451.1 2110.6,2450.8 2112.7,2450.6 2114.7,2450.3 2116.7,2450.0 2118.8,2449.6 2120.8,2449.2 2122.8,2448.8 2124.9,2448.3 2126.9,2447.8 2128.9,2447.2 2139.5,2447.2 2139.5,2447.2 2246.8,2447.2" fill="none" stroke="#50ac16" stroke-width="3.0" stroke-linejoin="round" stroke-linecap="round" />
<polyline points="176.7,2447.2 291.4,2447.2 293.0,2447.2 294.5,2447.2 296.0,2447.1 297.5,2447.1 299.0,2447.0 300.6,2447.0 302.1,2446.9 303.6,2446.8 305.1,2446.7 306.7,2446.5 308.2,2446.4 309.7,2446.3 311.2,2446.1 312.7,2445.9 314.3,2445.8 315.8,2445.6 317.3,2445.4 318.8,2445.2 320.4,2445.0 321.9,2444.8 323.4,2444.5 324.9,2444.3 326.4,2444.1 328.0,2443.8 329.5,2443.5 331.0,2443.3 332.5,2443.0 334.1,2442.7 335.6,2442.3 337.1,2441.8 338.6,2441.2 340.2,2440.6 341.7,2439.9 343.2,2439.2 344.7,2438.4 346.2,2437.5 347.8,2436.6 349.3,2435.6 350.8,2434.7 352.3,2433.7 353.9,2432.6 355.4,2431.6 356.9,2430.5 358.4,2429.4 359.9,2428.3 361.5,2427.2 363.0,2426.1 364.5,2425.0 366.0,2423.9 367.6,2422.7 369.1,2421.4 370.6,2420.1 372.1,2418.7 373.6,2417.3 375.2,2415.9 376.7,2414.4 378.2,2412.9 379.7,2411.3 381.3,2409.7 382.8,2408.1 384.3,2406.5 386.4,2395.2 391.4,2405.1 393.4,2396.3 395.0,2394.6 396.5,2392.8 398.0,2391.0 399.5,2389.2 401.0,2387.4 402.6,2385.5 404.1,2383.5 405.6,2381.6 407.1,2379.6 408.7,2377.6 410.2,2375.6 411.7,2373.5 413.2,2371.5 414.7,2369.4 416.3,2367.3 417.8,2365.2 420.2,2352.8 425.2,2361.9 426.9,2352.6 428.4,2350.5 430.0,2348.4 431.5,2346.3 433.0,2344.2 434.5,2342.1 436.1,2340.0 437.6,2337.9 439.1,2335.7 440.6,2333.6 442.1,2331.4 443.7,2329.2 445.2,2327.0 446.7,2324.8 448.2,2322.6 449.8,2320.3 451.3,2318.0 453.5,2305.2 458.6,2313.7 460.4,2303.8 461.9,2301.3 463.5,2298.7 465.0,2296.1 466.5,2293.5 468.0,2290.8 469.5,2288.2 471.1,2285.5 472.2,2273.8 477.3,2281.9 478.7,2272.5 480.2,2269.9 481.7,2267.3 483.2,2264.6 484.8,2262.1 486.3,2259.6 488.4,2247.9 493.4,2257.3 495.4,2247.4 496.9,2245.7 498.5,2244.1 500.0,2234.6 512.6,2250.4 518.7,2231.7 524.7,2221.4 532.4,2241.6 540.1,2222.1 547.7,2239.7 555.4,2220.1 563.1,2240.3 570.8,2222.5 578.4,2241.2 586.1,2220.7 593.8,2239.2 601.5,2221.2 609.1,2241.5 616.8,2222.3 624.5,2239.9 632.2,2220.1 639.8,2240.1 647.5,2222.4 655.2,2241.4 662.9,2220.9 670.5,2239.2 678.2,2221.0 685.9,2241.4 693.6,2222.4 701.2,2240.1 708.9,2220.1 716.6,2240.0 724.3,2222.3 731.9,2241.5 739.6,2221.1 747.3,2239.2 755.0,2220.8 762.6,2241.3 770.3,2222.5 778.0,2240.3 785.7,2220.1 793.3,2239.8 801.0,2222.2 808.7,2241.6 816.4,2221.3 824.0,2239.2 828.2,2228.0 829.7,2228.5 831.2,2229.0 832.8,2229.6 834.3,2230.2 835.8,2230.9 837.3,2231.6 838.9,2232.3 840.8,2224.2 846.9,2242.8 848.0,2237.4 849.5,2238.4 851.0,2239.4 852.6,2240.6 854.1,2241.7 856.5,2235.3 862.5,2256.3 864.8,2251.6 866.3,2253.2 867.8,2254.8 869.3,2256.4 870.9,2258.1 872.1,2251.0 878.2,2272.0 880.0,2268.0 881.5,2269.6 883.0,2271.1 884.6,2272.6 886.1,2274.1 887.6,2275.6 889.1,2277.1 890.8,2269.6 896.9,2290.5 898.3,2285.6 899.8,2287.1 901.3,2288.5 902.8,2289.9 904.4,2291.4 905.9,2292.9 907.4,2294.4 909.5,2287.9 915.5,2308.7 916.6,2304.0 918.1,2305.7 919.6,2307.5 921.1,2309.4 922.7,2311.3 924.2,2313.2 925.7,2315.2 928.2,2309.7 934.2,2332.3 936.4,2329.3 937.9,2331.3 939.4,2333.2 940.9,2335.1 942.5,2336.9 944.0,2338.6 945.5,2340.2 946.9,2333.0 952.9,2355.1 954.6,2350.9 956.2,2353.1 956.4,2353.5 958.5,2357.7 960.5,2361.7 962.5,2365.5 964.6,2369.1 966.6,2372.4 968.6,2375.5 970.7,2378.4 972.7,2381.0 974.7,2383.5 976.8,2386.1 978.8,2388.8 980.8,2391.7 982.9,2394.7 984.9,2397.7 986.9,2400.7 989.0,2403.6 991.0,2406.4 993.0,2409.0 995.1,2411.3 997.1,2413.5 999.1,2415.6 1001.2,2417.6 1003.2,2419.5 1005.2,2421.4 1007.3,2423.2 1009.3,2425.0 1011.3,2426.9 1013.4,2428.7 1015.4,2430.5 1017.4,2432.3 1019.4,2434.0 1021.5,2435.6 1023.5,2437.0 1025.5,2438.4 1027.6,2439.6 1029.6,2440.8 1031.6,2442.0 1033.7,2443.0 1035.7,2444.0 1037.7,2444.9 1039.8,2445.6 1041.8,2446.3 1043.8,2446.9 1045.9,2447.5 1047.9,2448.0 1049.9,2448.6 1052.0,2449.2 1054.0,2449.7 1056.0,2450.1 1058.1,2450.6 1060.1,2451.0 1062.1,2451.3 1064.2,2451.6 1066.2,2451.9 1068.2,2452.0 1070.3,2452.1 1072.3,2452.2 1074.3,2452.2 1076.4,2452.2 1078.4,2452.1 1080.4,2452.1 1082.5,2452.1 1084.5,2452.0 1086.5,2451.9 1088.5,2451.8 1090.6,2451.7 1092.6,2451.6 1094.6,2451.5 1096.7,2451.3 1098.7,2451.1 1100.7,2450.8 1102.8,2450.6 1104.8,2450.3 1106.8,2450.0 1108.9,2449.6 1110.9,2449.2 1112.9,2448.8 1115.0,2448.3 1117.0,2447.8 1119.0,2447.2 1129.6,2447.2 1129.6,2447.2 1806.3,2447.2 1807.8,2447.2 1809.3,2447.2 1810.8,2447.1 1812.3,2447.1 1813.9,2447.0 1815.4,2447.0 1816.9,2446.9 1818.4,2446.8 1820.0,2446.7 1821.5,2446.5 1823.0,2446.4 1824.5,2446.3 1826.0,2446.1 1827.6,2445.9 1829.1,2445.8 1830.6,2445.6 1832.1,2445.4 1833.7,2445.2 1835.2,2445.0 1836.7,2444.8 1838.2,2444.5 1839.7,2444.3 1841.3,2444.1 1842.8,2443.8 1844.3,2443.5 1845.8,2443.3 1847.4,2443.0 1848.9,2442.7 1850.4,2442.3 1851.9,2441.8 1853.4,2441.2 1855.0,2440.6 1856.5,2439.9 1858.0,2439.2 1859.5,2438.4 1861.1,2437.5 1862.6,2436.6 1864.1,2435.6 1865.6,2434.7 1867.1,2433.7 1868.7,2432.6 1870.2,2431.6 1871.7,2430.5 1873.2,2429.4 1874.8,2428.3 1876.3,2427.2 1877.8,2426.1 1879.3,2425.0 1880.8,2423.9 1882.4,2422.7 1883.9,2421.4 1885.4,2420.1 1886.9,2418.7 1888.5,2417.3 1890.0,2415.9 1891.5,2414.4 1893.0,2412.9 1894.5,2411.3 1896.1,2409.7 1897.6,2408.1 1899.1,2406.5 1901.2,2395.2 1906.2,2405.1 1908.2,2396.3 1909.8,2394.6 1911.3,2392.8 1912.8,2391.0 1914.3,2389.2 1915.9,2387.4 1917.4,2385.5 1918.9,2383.5 1920.4,2381.6 1921.9,2379.6 1923.5,2377.6 1925.0,2375.6 1926.5,2373.5 1928.0,2371.5 1929.6,2369.4 1931.1,2367.3 1932.6,2365.2 1935.0,2352.8 1940.1,2361.9 1941.7,2352.6 1943.3,2350.5 1944.8,2348.4 1946.3,2346.3 1947.8,2344.2 1949.3,2342.1 1950.9,2340.0 1952.4,2337.9 1953.9,2335.7 1955.4,2333.6 1957.0,2331.4 1958.5,2329.2 1960.0,2327.0 1961.5,2324.8 1963.0,2322.6 1964.6,2320.3 1966.1,2318.0 1968.3,2305.2 1973.4,2313.7 1975.2,2303.8 1976.7,2301.3 1978.3,2298.7 1979.8,2296.1 1981.3,2293.5 1982.8,2290.8 1984.4,2288.2 1985.9,2285.5 1987.0,2273.8 1992.1,2281.9 1993.5,2272.5 1995.0,2269.9 1996.5,2267.3 1998.1,2264.6 1999.6,2262.1 2001.1,2259.6 2003.2,2247.9 2008.2,2257.3 2010.2,2247.4 2011.8,2245.7 2013.3,2244.1 2014.8,2234.6 2027.4,2250.4 2033.5,2231.7 2039.5,2221.4 2047.2,2241.6 2054.9,2222.1 2062.6,2239.7 2070.2,2220.1 2077.9,2240.3 2085.6,2222.5 2093.3,2241.2 2100.9,2220.7 2108.6,2239.2 2116.3,2221.2 2124.0,2241.5 2131.6,2222.3 2139.3,2239.9 2147.0,2220.1 2154.7,2240.1 2162.3,2222.4 2170.0,2241.4 2177.7,2220.9 2185.4,2239.2 2193.0,2221.0 2200.7,2241.4 2208.4,2222.4 2216.1,2240.1 2223.7,2220.1 2231.4,2240.0 2239.1,2222.3 2246.8,2241.5 2246.8,2241.4" fill="none" stroke="#00bbee" stroke-width="2.8" stroke-linejoin="round" stroke-linecap="round" />
<polyline points="179.8,2958.9 785.8,2958.9 786.3,2958.9 889.3,2779.1 895.8,2792.2 917.9,2749.3 921.9,2745.1 928.6,2755.9 935.3,2743.8 942.0,2753.9 948.7,2741.0 955.4,2750.9 962.0,2737.9 968.7,2747.3 975.4,2733.7 982.1,2743.0 988.8,2729.5 995.5,2741.0 1002.1,2732.1 1008.8,2747.9 1015.5,2747.1 1022.2,2768.2 1028.9,2761.5 1035.6,2777.7 1042.2,2771.1 1048.9,2787.3 1055.6,2780.0 1062.3,2795.3 1069.0,2787.7 1075.7,2802.9 1082.4,2795.3 1089.0,2808.6 1095.7,2803.6 1102.4,2815.3 1109.1,2810.3 1115.8,2822.0 1122.5,2814.7 1129.1,2823.4 1135.8,2815.3 1142.5,2824.0 1149.2,2815.9 1155.9,2824.6 1162.6,2816.3 1169.2,2824.3 1175.9,2815.5 1182.6,2823.5 1189.3,2814.7 1196.0,2822.7 1202.7,2814.0 1209.3,2821.9 1216.0,2813.2 1222.7,2821.2 1229.4,2812.4 1236.1,2820.4 1242.8,2811.7 1249.4,2819.8 1256.1,2811.2 1262.8,2819.3 1269.5,2810.7 1276.2,2818.8 1282.9,2810.2 1289.5,2818.3 1296.2,2809.5 1302.9,2817.4 1309.6,2808.6 1316.3,2816.6 1323.0,2807.8 1329.7,2815.8 1336.3,2807.0 1343.0,2814.9 1349.7,2806.1 1356.4,2814.1 1363.1,2805.3 1369.8,2814.8 1376.4,2808.2 1383.1,2818.4 1389.8,2812.4 1396.5,2823.1 1403.2,2816.7 1409.9,2826.8 1416.5,2820.1 1423.2,2830.7 1429.9,2824.8 1436.6,2835.4 1443.3,2829.2 1450.0,2839.6 1457.1,2836.0 1464.7,2831.3 1620.5,2958.9 2240.4,2958.9" fill="none" stroke="#ff0000" stroke-width="4.6" stroke-linejoin="round" stroke-linecap="round" />
<polyline points="179.8,2958.9 283.2,2958.9 283.7,2958.9 386.7,2779.1 393.3,2792.2 415.4,2749.3 419.4,2745.1 426.1,2755.9 432.8,2743.8 439.5,2753.9 446.1,2741.0 452.8,2750.9 459.5,2737.9 466.2,2747.3 472.9,2733.7 479.6,2743.0 486.2,2729.5 492.9,2741.0 499.6,2732.1 506.3,2747.9 513.0,2747.1 519.7,2768.2 526.3,2761.5 533.0,2777.7 539.7,2771.1 546.4,2787.3 553.1,2780.0 559.8,2795.3 566.4,2787.7 573.1,2802.9 579.8,2795.3 586.5,2808.6 593.2,2803.6 599.9,2815.3 606.5,2810.3 613.2,2822.0 619.9,2814.7 626.6,2823.4 633.3,2815.3 640.0,2824.0 646.6,2815.9 653.3,2824.6 660.0,2816.3 666.7,2824.3 673.4,2815.5 680.1,2823.5 686.8,2814.7 693.4,2822.7 700.1,2814.0 706.8,2821.9 713.5,2813.2 720.2,2821.2 726.9,2812.4 733.5,2820.4 740.2,2811.7 746.9,2819.8 753.6,2811.2 760.3,2819.3 767.0,2810.7 773.6,2818.8 780.3,2810.2 787.0,2818.3 793.7,2809.5 800.4,2817.4 807.1,2808.6 813.7,2816.6 820.4,2807.8 827.1,2815.8 833.8,2807.0 840.5,2814.9 847.2,2806.1 853.8,2814.1 860.5,2805.3 867.2,2814.8 873.9,2808.2 880.6,2818.4 887.3,2812.4 893.9,2823.1 900.6,2816.7 907.3,2826.8 914.0,2820.1 920.7,2830.7 927.4,2824.8 934.1,2835.4 940.7,2829.2 947.4,2839.6 954.6,2836.0 962.1,2831.3 1117.9,2958.9 1790.8,2958.9 1791.3,2958.9 1894.4,2779.1 1900.9,2792.2 1923.0,2749.3 1927.0,2745.1 1933.7,2755.9 1940.4,2743.8 1947.1,2753.9 1953.8,2741.0 1960.4,2750.9 1967.1,2737.9 1973.8,2747.3 1980.5,2733.7 1987.2,2743.0 1993.9,2729.5 2000.5,2741.0 2007.2,2732.1 2013.9,2747.9 2020.6,2747.1 2027.3,2768.2 2034.0,2761.5 2040.6,2777.7 2047.3,2771.1 2054.0,2787.3 2060.7,2780.0 2067.4,2795.3 2074.1,2787.7 2080.7,2802.9 2087.4,2795.3 2094.1,2808.6 2100.8,2803.6 2107.5,2815.3 2114.2,2810.3 2120.9,2822.0 2127.5,2814.7 2134.2,2823.4 2140.9,2815.3 2147.6,2824.0 2154.3,2815.9 2161.0,2824.6 2167.6,2816.3 2174.3,2824.3 2181.0,2815.5 2187.7,2823.5 2194.4,2814.7 2201.1,2822.7 2207.7,2814.0 2214.4,2821.9 2221.1,2813.2 2227.8,2821.2 2234.5,2812.4 2240.4,2819.5" fill="none" stroke="#50ac16" stroke-width="4.6" stroke-linejoin="round" stroke-linecap="round" />
<polyline points="179.8,2820.5 184.2,2814.7 190.9,2822.7 197.6,2814.0 204.3,2821.9 210.9,2813.2 217.6,2821.2 224.3,2812.4 231.0,2820.4 237.7,2811.7 244.4,2819.8 251.1,2811.2 257.7,2819.3 264.4,2810.7 271.1,2818.8 277.8,2810.2 284.5,2818.3 291.2,2809.5 297.8,2817.4 304.5,2808.6 311.2,2816.6 317.9,2807.8 324.6,2815.8 331.3,2807.0 337.9,2814.9 344.6,2806.1 351.3,2814.1 358.0,2805.3 364.7,2814.8 371.4,2808.2 378.0,2818.4 384.7,2812.4 391.4,2823.1 398.1,2816.7 404.8,2826.8 411.5,2820.1 418.1,2830.7 424.8,2824.8 431.5,2835.4 438.2,2829.2 444.9,2839.6 452.1,2836.0 459.6,2831.3 615.4,2958.9 1288.3,2958.9 1288.8,2958.9 1391.8,2779.1 1398.3,2792.2 1420.5,2749.3 1424.5,2745.1 1431.2,2755.9 1437.8,2743.8 1444.5,2753.9 1451.2,2741.0 1457.9,2750.9 1464.6,2737.9 1471.3,2747.3 1478.0,2733.7 1484.6,2743.0 1491.3,2729.5 1498.0,2741.0 1504.7,2732.1 1511.4,2747.9 1518.1,2747.1 1524.7,2768.2 1531.4,2761.5 1538.1,2777.7 1544.8,2771.1 1551.5,2787.3 1558.2,2780.0 1564.8,2795.3 1571.5,2787.7 1578.2,2802.9 1584.9,2795.3 1591.6,2808.6 1598.3,2803.6 1604.9,2815.3 1611.6,2810.3 1618.3,2822.0 1625.0,2814.7 1631.7,2823.4 1638.4,2815.3 1645.0,2824.0 1651.7,2815.9 1658.4,2824.6 1665.1,2816.3 1671.8,2824.3 1678.5,2815.5 1685.1,2823.5 1691.8,2814.7 1698.5,2822.7 1705.2,2814.0 1711.9,2821.9 1718.6,2813.2 1725.3,2821.2 1731.9,2812.4 1738.6,2820.4 1745.3,2811.7 1752.0,2819.8 1758.7,2811.2 1765.4,2819.3 1772.0,2810.7 1778.7,2818.8 1785.4,2810.2 1792.1,2818.3 1798.8,2809.5 1805.5,2817.4 1812.1,2808.6 1818.8,2816.6 1825.5,2807.8 1832.2,2815.8 1838.9,2807.0 1845.6,2814.9 1852.2,2806.1 1858.9,2814.1 1865.6,2805.3 1872.3,2814.8 1879.0,2808.2 1885.7,2818.4 1892.3,2812.4 1899.0,2823.1 1905.7,2816.7 1912.4,2826.8 1919.1,2820.1 1925.8,2830.7 1932.4,2824.8 1939.1,2835.4 1945.8,2829.2 1952.5,2839.6 1959.7,2836.0 1967.2,2831.3 2123.0,2958.9 2240.4,2958.9" fill="none" stroke="#0000ff" stroke-width="4.6" stroke-linejoin="round" stroke-linecap="round" />
<text x="1278.0" y="202.0" font-family="'Liberation Sans',Arial,sans-serif" font-size="38.5" letter-spacing="-0.8" fill="#000" style="stroke:#000;stroke-width:0.5px">7.28</text>
<line x1="1402.3" y1="164.4" x2="1503.6" y2="154.0" stroke="#000" stroke-width="2.8"/>
<polygon points="1521.4,152.1 1499.6,164.9 1503.6,154.0 1497.5,144.0" fill="#000" stroke="#000" stroke-width="2.4" stroke-linejoin="round"/>
<rect x="1253.0" y="381.0" width="76.0" height="32" fill="#fff"/>
<text x="1255.0" y="409.0" font-family="'Liberation Sans',Arial,sans-serif" font-size="38.5" letter-spacing="-0.8" fill="#000" style="stroke:#000;stroke-width:0.5px">4.21</text>
<line x1="1243.0" y1="406.4" x2="1140.4" y2="395.9" stroke="#000" stroke-width="2.8"/>
<polygon points="1122.6,394.0 1146.5,385.9 1140.4,395.9 1144.4,406.8" fill="#000" stroke="#000" stroke-width="2.4" stroke-linejoin="round"/>
<text x="1779.0" y="230.0" font-size="44" fill="#000">T</text>
<text x="1805.0" y="247.5" font-size="37" fill="#000">e</text>
<line x1="1776.3" y1="222.3" x2="1698.7" y2="261.7" stroke="#000" stroke-width="2.8"/>
<polygon points="1682.7,269.9 1698.4,250.1 1698.7,261.7 1707.9,268.8" fill="#000" stroke="#000" stroke-width="2.4" stroke-linejoin="round"/>
<text x="332.0" y="582.9" font-size="44" fill="#000">T</text>
<text x="359.5" y="603.0" font-size="37" fill="#000">a</text>
<text x="377.0" y="585.9" font-size="47" fill="#000">*</text>
<line x1="380.4" y1="578.0" x2="434.8" y2="603.7" stroke="#000" stroke-width="2.8"/>
<polygon points="451.0,611.4 425.7,611.0 434.8,603.7 434.7,592.1" fill="#000" stroke="#000" stroke-width="2.4" stroke-linejoin="round"/>
<text x="655.5" y="574.8" font-size="44" fill="#000">T</text>
<text x="682.0" y="595.0" font-size="37" fill="#000">a</text>
<line x1="655.7" y1="557.5" x2="588.5" y2="587.3" stroke="#000" stroke-width="2.8"/>
<polygon points="572.1,594.5 588.9,575.6 588.5,587.3 597.4,594.8" fill="#000" stroke="#000" stroke-width="2.4" stroke-linejoin="round"/>
<text x="841.3" y="581.3" font-size="44" fill="#000">T</text>
<text x="869.5" y="599.8" font-size="37" fill="#000">b</text>
<text x="885.0" y="584.3" font-size="47" fill="#000">*</text>
<line x1="891.7" y1="578.0" x2="939.4" y2="610.3" stroke="#000" stroke-width="2.8"/>
<polygon points="954.2,620.3 929.3,616.1 939.4,610.3 941.0,598.7" fill="#000" stroke="#000" stroke-width="2.4" stroke-linejoin="round"/>
<text x="1166.0" y="573.1" font-size="44" fill="#000">T</text>
<text x="1193.0" y="591.0" font-size="37" fill="#000">b</text>
<line x1="1165.4" y1="562.4" x2="1096.4" y2="593.6" stroke="#000" stroke-width="2.8"/>
<polygon points="1080.1,601.0 1096.7,582.0 1096.4,593.6 1105.4,601.1" fill="#000" stroke="#000" stroke-width="2.4" stroke-linejoin="round"/>
<text x="1348.6" y="587.8" font-size="44" fill="#000">T</text>
<text x="1377.0" y="605.4" font-size="37" fill="#000">c</text>
<text x="1393.5" y="590.8" font-size="47" fill="#000">*</text>
<line x1="1410.8" y1="594.3" x2="1444.1" y2="618.1" stroke="#000" stroke-width="2.8"/>
<polygon points="1458.7,628.5 1433.9,623.7 1444.1,618.1 1446.1,606.6" fill="#000" stroke="#000" stroke-width="2.4" stroke-linejoin="round"/>
<text x="1666.3" y="576.4" font-size="44" fill="#000">T</text>
<text x="1694.0" y="595.0" font-size="37" fill="#000">c</text>
<line x1="1654.2" y1="561.7" x2="1585.3" y2="593.5" stroke="#000" stroke-width="2.8"/>
<polygon points="1569.0,601.0 1585.5,581.8 1585.3,593.5 1594.3,600.9" fill="#000" stroke="#000" stroke-width="2.4" stroke-linejoin="round"/>
<text x="740.0" y="1096.7" font-size="44" fill="#000">i</text>
<text x="753.5" y="1115.8" font-size="37" fill="#000">a</text>
<line x1="720.3" y1="1095.4" x2="650.7" y2="1126.0" stroke="#000" stroke-width="2.8"/>
<polygon points="634.3,1133.2 651.1,1114.3 650.7,1126.0 659.6,1133.6" fill="#000" stroke="#000" stroke-width="2.4" stroke-linejoin="round"/>
<text x="1226.5" y="1099.0" font-size="44" fill="#000">i</text>
<text x="1239.5" y="1119.0" font-size="37" fill="#000">b</text>
<line x1="1205.3" y1="1094.7" x2="1137.1" y2="1125.4" stroke="#000" stroke-width="2.8"/>
<polygon points="1120.8,1132.8 1137.4,1113.8 1137.1,1125.4 1146.1,1132.9" fill="#000" stroke="#000" stroke-width="2.4" stroke-linejoin="round"/>
<text x="1741.5" y="1108.0" font-size="44" fill="#000">i</text>
<text x="1755.5" y="1128.0" font-size="37" fill="#000">c</text>
<line x1="1727.2" y1="1098.2" x2="1659.2" y2="1127.8" stroke="#000" stroke-width="2.8"/>
<polygon points="1642.8,1135.0 1659.7,1116.2 1659.2,1127.8 1668.1,1135.4" fill="#000" stroke="#000" stroke-width="2.4" stroke-linejoin="round"/>
<text x="623.3" y="1863.9" font-size="44" fill="#000">T</text>
<text x="649.5" y="1883.0" font-size="37" fill="#000">e</text>
<line x1="674.9" y1="1854.2" x2="754.6" y2="1881.7" stroke="#000" stroke-width="2.8"/>
<polygon points="771.6,1887.6 746.4,1890.0 754.6,1881.7 753.3,1870.2" fill="#000" stroke="#000" stroke-width="2.4" stroke-linejoin="round"/>
<text x="1334.5" y="1863.0" font-family="'Liberation Sans',Arial,sans-serif" font-size="38.5" letter-spacing="-0.8" fill="#000" style="stroke:#000;stroke-width:0.5px">5.5</text>
<line x1="1409.7" y1="1860.2" x2="1468.7" y2="1868.4" stroke="#000" stroke-width="2.8"/>
<polygon points="1486.5,1870.8 1462.3,1878.1 1468.7,1868.4 1465.2,1857.3" fill="#000" stroke="#000" stroke-width="2.4" stroke-linejoin="round"/>
<text x="1294.0" y="1999.2" font-family="'Liberation Sans',Arial,sans-serif" font-size="38.5" letter-spacing="-0.8" fill="#000" style="stroke:#000;stroke-width:0.5px">4.76</text>
<line x1="1368.3" y1="1981.4" x2="1507.5" y2="1970.7" stroke="#000" stroke-width="2.8"/>
<polygon points="1525.4,1969.3 1503.3,1981.5 1507.5,1970.7 1501.7,1960.6" fill="#000" stroke="#000" stroke-width="2.4" stroke-linejoin="round"/>
<text x="705.0" y="2190.5" font-size="44" fill="#000">T</text>
<text x="730.5" y="2209.0" font-size="37" fill="#000">a</text>
<line x1="707.3" y1="2192.7" x2="644.9" y2="2207.7" stroke="#000" stroke-width="2.8"/>
<polygon points="627.5,2211.9 647.4,2196.3 644.9,2207.7 652.3,2216.7" fill="#000" stroke="#000" stroke-width="2.4" stroke-linejoin="round"/>
<text x="541.0" y="2355.7" font-size="44" fill="#000">T</text>
<text x="567.0" y="2372.2" font-size="37" fill="#000">a</text>
<text x="584.0" y="2358.7" font-size="47" fill="#000">*</text>
<line x1="551.8" y1="2315.8" x2="515.1" y2="2269.3" stroke="#000" stroke-width="2.8"/>
<polygon points="503.9,2255.2 526.4,2266.8 515.1,2269.3 510.0,2279.8" fill="#000" stroke="#000" stroke-width="2.4" stroke-linejoin="round"/>
<text x="1061.3" y="2349.2" font-size="44" fill="#000">T</text>
<text x="1089.5" y="2367.7" font-size="37" fill="#000">b</text>
<text x="1105.5" y="2352.2" font-size="47" fill="#000">*</text>
<line x1="1070.0" y1="2312.6" x2="1033.0" y2="2263.1" stroke="#000" stroke-width="2.8"/>
<polygon points="1022.2,2248.8 1044.4,2260.9 1033.0,2263.1 1027.6,2273.5" fill="#000" stroke="#000" stroke-width="2.4" stroke-linejoin="round"/>
<text x="1218.7" y="2198.2" font-size="44" fill="#000">T</text>
<text x="1245.0" y="2217.0" font-size="37" fill="#000">b</text>
<line x1="1216.4" y1="2194.0" x2="1153.6" y2="2207.0" stroke="#000" stroke-width="2.8"/>
<polygon points="1136.1,2210.7 1156.5,2195.7 1153.6,2207.0 1160.7,2216.3" fill="#000" stroke="#000" stroke-width="2.4" stroke-linejoin="round"/>
<text x="1722.0" y="2201.5" font-size="44" fill="#000">T</text>
<text x="1748.0" y="2220.3" font-size="37" fill="#000">c</text>
<line x1="1713.2" y1="2190.7" x2="1649.5" y2="2205.9" stroke="#000" stroke-width="2.8"/>
<polygon points="1632.1,2210.1 1652.0,2194.6 1649.5,2205.9 1656.9,2215.0" fill="#000" stroke="#000" stroke-width="2.4" stroke-linejoin="round"/>
<text x="1577.3" y="2369.3" font-size="44" fill="#000">T</text>
<text x="1603.3" y="2384.7" font-size="37" fill="#000">c</text>
<text x="1617.5" y="2372.3" font-size="47" fill="#000">*</text>
<line x1="1575.0" y1="2324.2" x2="1537.3" y2="2274.9" stroke="#000" stroke-width="2.8"/>
<polygon points="1526.4,2260.7 1548.7,2272.6 1537.3,2274.9 1532.1,2285.3" fill="#000" stroke="#000" stroke-width="2.4" stroke-linejoin="round"/>
<text x="694.0" y="2746.8" font-size="44" fill="#000">i</text>
<text x="705.5" y="2765.5" font-size="37" fill="#000">a</text>
<line x1="679.5" y1="2750.2" x2="610.1" y2="2781.7" stroke="#000" stroke-width="2.8"/>
<polygon points="593.8,2789.1 610.4,2770.0 610.1,2781.7 619.1,2789.2" fill="#000" stroke="#000" stroke-width="2.4" stroke-linejoin="round"/>
<text x="1189.5" y="2733.6" font-size="44" fill="#000">i</text>
<text x="1201.7" y="2750.0" font-size="37" fill="#000">b</text>
<line x1="1180.3" y1="2740.2" x2="1112.5" y2="2771.2" stroke="#000" stroke-width="2.8"/>
<polygon points="1096.2,2778.7 1112.7,2759.6 1112.5,2771.2 1121.5,2778.7" fill="#000" stroke="#000" stroke-width="2.4" stroke-linejoin="round"/>
<text x="1698.2" y="2733.6" font-size="44" fill="#000">i</text>
<text x="1710.5" y="2750.0" font-size="37" fill="#000">c</text>
<line x1="1689.1" y1="2742.7" x2="1621.4" y2="2772.6" stroke="#000" stroke-width="2.8"/>
<polygon points="1605.0,2779.8 1621.8,2760.9 1621.4,2772.6 1630.3,2780.1" fill="#000" stroke="#000" stroke-width="2.4" stroke-linejoin="round"/>
<text x="1118.0" y="1440.2" font-size="59">Time(s)</text>
<text x="1117.0" y="3098.2" font-size="59">Time(s)</text>
<text x="1092" y="1579" font-size="87" letter-spacing="-1.5">(<tspan font-weight="bold">a</tspan>)</text>
<text x="1088.5" y="3264" font-size="87" letter-spacing="-0.5">(<tspan font-weight="bold">b</tspan>)</text>
</svg>
</body></html>
